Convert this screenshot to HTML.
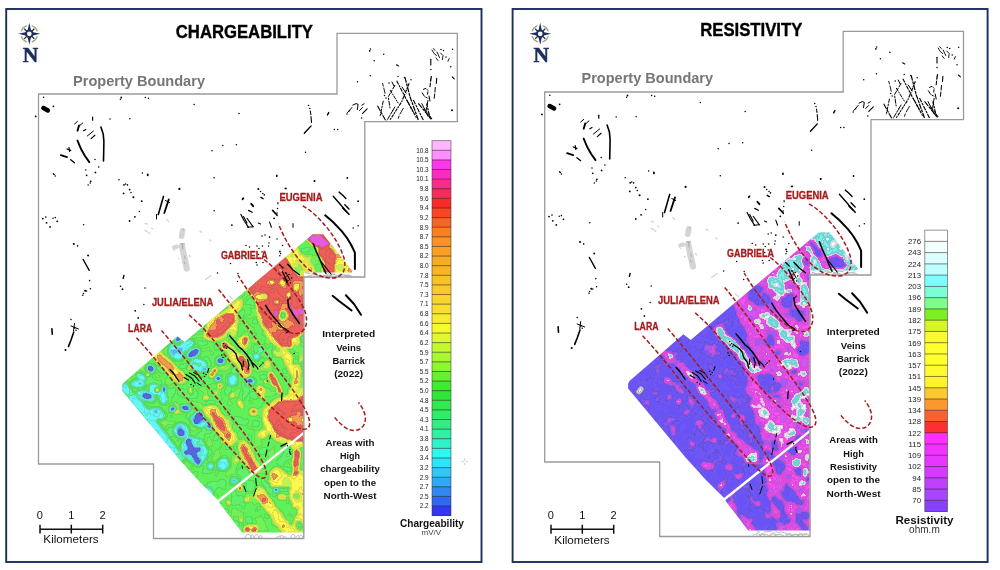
<!DOCTYPE html>
<html><head><meta charset="utf-8"><title>Chargeability / Resistivity</title>
<style>html,body{margin:0;padding:0;background:#fff;}svg{display:block;will-change:transform;}</style></head><body>
<svg width="1000" height="570" viewBox="0 0 1000 570">
<defs>
<filter id="cm1" x="0" y="0" width="100%" height="100%" color-interpolation-filters="sRGB"><feGaussianBlur in="SourceGraphic" stdDeviation="1.3" result="f"/><feTurbulence type="fractalNoise" baseFrequency="0.075" numOctaves="2" seed="11" result="n"/><feColorMatrix in="n" type="matrix" values="1 0 0 0 0  1 0 0 0 0  1 0 0 0 0  0 0 0 0 1" result="ng"/><feComposite in="f" in2="ng" operator="arithmetic" k1="0" k2="1" k3="0.35" k4="-0.175" result="v"/><feComponentTransfer in="v" result="cls"><feFuncR type="discrete" tableValues="0.0312 0.0938 0.1562 0.2188 0.2812 0.3438 0.4062 0.4688 0.5312 0.5938 0.6562 0.7188 0.7812 0.8438 0.9062 0.9688"/><feFuncG type="discrete" tableValues="0.0312 0.0938 0.1562 0.2188 0.2812 0.3438 0.4062 0.4688 0.5312 0.5938 0.6562 0.7188 0.7812 0.8438 0.9062 0.9688"/><feFuncB type="discrete" tableValues="0.0312 0.0938 0.1562 0.2188 0.2812 0.3438 0.4062 0.4688 0.5312 0.5938 0.6562 0.7188 0.7812 0.8438 0.9062 0.9688"/></feComponentTransfer><feMorphology in="cls" operator="erode" radius="1" result="er"/><feBlend in="cls" in2="er" mode="difference" result="df"/><feColorMatrix in="df" type="matrix" values="0 0 0 0 0.15  0 0 0 0 0.2  0 0 0 0 0.15  24.0 0 0 0 0" result="el"/><feComponentTransfer in="el" result="el2"><feFuncA type="linear" slope="0.12"/></feComponentTransfer><feComponentTransfer in="v" result="col"><feFuncR type="discrete" tableValues="0.345 0.345 0.345 0.345 0.345 0.345 0.345 0.345 0.345 0.345 0.345 0.345 0.345 0.345 0.345 0.345 0.345 0.345 0.345 0.345 0.345 0.345 0.345 0.345 0.345 0.345 0.345 0.345 0.345 0.345 0.361 0.361 0.361 0.361 0.361 0.361 0.361 0.361 0.361 0.361 0.361 0.361 0.361 0.361 0.361 0.392 0.392 0.392 0.392 0.392 0.392 0.392 0.392 0.392 0.392 0.392 0.392 0.392 0.392 0.392 0.392 0.392 0.392 0.392 0.392 0.392 0.392 0.392 0.392 0.392 0.392 0.392 0.392 0.392 0.392 0.384 0.384 0.384 0.384 0.384 0.384 0.384 0.384 0.384 0.384 0.384 0.384 0.384 0.384 0.384 0.369 0.369 0.369 0.369 0.369 0.369 0.369 0.369 0.369 0.369 0.369 0.369 0.369 0.369 0.369 0.376 0.376 0.376 0.376 0.376 0.376 0.376 0.376 0.376 0.376 0.376 0.376 0.376 0.376 0.376 0.439 0.439 0.439 0.439 0.439 0.439 0.439 0.439 0.439 0.439 0.439 0.439 0.439 0.439 0.439 0.722 0.722 0.722 0.722 0.722 0.722 0.722 0.722 0.722 0.722 0.722 0.722 0.722 0.722 0.722 0.973 0.973 0.973 0.973 0.973 0.973 0.973 0.973 0.973 0.973 0.973 0.973 0.973 0.973 0.973 0.973 0.973 0.973 0.973 0.973 0.973 0.973 0.973 0.973 0.973 0.973 0.973 0.973 0.973 0.973 0.949 0.949 0.949 0.949 0.949 0.949 0.949 0.949 0.949 0.949 0.949 0.949 0.949 0.949 0.949 0.941 0.941 0.941 0.941 0.941 0.941 0.941 0.941 0.941 0.941 0.941 0.941 0.941 0.941 0.941 0.941 0.941 0.941 0.941 0.941 0.941 0.941 0.941 0.941 0.941 0.941 0.941 0.941 0.941 0.941 0.941 0.941 0.941 0.941 0.941 0.941 0.941 0.941 0.941 0.894 0.894 0.894 0.894 0.894 0.894"/><feFuncG type="discrete" tableValues="0.400 0.400 0.400 0.400 0.400 0.400 0.400 0.400 0.400 0.400 0.400 0.400 0.400 0.400 0.400 0.400 0.400 0.400 0.400 0.400 0.400 0.400 0.400 0.400 0.400 0.400 0.400 0.400 0.400 0.400 0.706 0.706 0.706 0.706 0.706 0.706 0.706 0.706 0.706 0.706 0.706 0.706 0.706 0.706 0.706 0.973 0.973 0.973 0.973 0.973 0.973 0.973 0.973 0.973 0.973 0.973 0.973 0.973 0.973 0.973 0.973 0.973 0.973 0.973 0.973 0.973 0.973 0.973 0.973 0.973 0.973 0.973 0.973 0.973 0.973 0.957 0.957 0.957 0.957 0.957 0.957 0.957 0.957 0.957 0.957 0.957 0.957 0.957 0.957 0.957 0.949 0.949 0.949 0.949 0.949 0.949 0.949 0.949 0.949 0.949 0.949 0.949 0.949 0.949 0.949 0.949 0.949 0.949 0.949 0.949 0.949 0.949 0.949 0.949 0.949 0.949 0.949 0.949 0.949 0.949 0.949 0.949 0.949 0.949 0.949 0.949 0.949 0.949 0.949 0.949 0.949 0.949 0.949 0.949 0.949 0.965 0.965 0.965 0.965 0.965 0.965 0.965 0.965 0.965 0.965 0.965 0.965 0.965 0.965 0.965 0.973 0.973 0.973 0.973 0.973 0.973 0.973 0.973 0.973 0.973 0.973 0.973 0.973 0.973 0.973 0.973 0.973 0.973 0.973 0.973 0.973 0.973 0.973 0.973 0.973 0.973 0.973 0.973 0.973 0.973 0.604 0.604 0.604 0.604 0.604 0.604 0.604 0.604 0.604 0.604 0.604 0.604 0.604 0.604 0.604 0.376 0.376 0.376 0.376 0.376 0.376 0.376 0.376 0.376 0.376 0.376 0.376 0.376 0.376 0.376 0.376 0.376 0.376 0.376 0.376 0.376 0.376 0.376 0.376 0.376 0.376 0.376 0.376 0.376 0.376 0.376 0.376 0.376 0.376 0.376 0.376 0.376 0.376 0.376 0.361 0.361 0.361 0.361 0.361 0.361"/><feFuncB type="discrete" tableValues="0.878 0.878 0.878 0.878 0.878 0.878 0.878 0.878 0.878 0.878 0.878 0.878 0.878 0.878 0.878 0.878 0.878 0.878 0.878 0.878 0.878 0.878 0.878 0.878 0.878 0.878 0.878 0.878 0.878 0.878 0.957 0.957 0.957 0.957 0.957 0.957 0.957 0.957 0.957 0.957 0.957 0.957 0.957 0.957 0.957 0.957 0.957 0.957 0.957 0.957 0.957 0.957 0.957 0.957 0.957 0.957 0.957 0.957 0.957 0.957 0.957 0.957 0.957 0.957 0.957 0.957 0.957 0.957 0.957 0.957 0.957 0.957 0.957 0.957 0.957 0.659 0.659 0.659 0.659 0.659 0.659 0.659 0.659 0.659 0.659 0.659 0.659 0.659 0.659 0.659 0.424 0.424 0.424 0.424 0.424 0.424 0.424 0.424 0.424 0.424 0.424 0.424 0.424 0.424 0.424 0.353 0.353 0.353 0.353 0.353 0.353 0.353 0.353 0.353 0.353 0.353 0.353 0.353 0.353 0.353 0.345 0.345 0.345 0.345 0.345 0.345 0.345 0.345 0.345 0.345 0.345 0.345 0.345 0.345 0.345 0.345 0.345 0.345 0.345 0.345 0.345 0.345 0.345 0.345 0.345 0.345 0.345 0.345 0.345 0.345 0.306 0.306 0.306 0.306 0.306 0.306 0.306 0.306 0.306 0.306 0.306 0.306 0.306 0.306 0.306 0.306 0.306 0.306 0.306 0.306 0.306 0.306 0.306 0.306 0.306 0.306 0.306 0.306 0.306 0.306 0.314 0.314 0.314 0.314 0.314 0.314 0.314 0.314 0.314 0.314 0.314 0.314 0.314 0.314 0.314 0.353 0.353 0.353 0.353 0.353 0.353 0.353 0.353 0.353 0.353 0.353 0.353 0.353 0.353 0.353 0.353 0.353 0.353 0.353 0.353 0.353 0.353 0.353 0.353 0.353 0.353 0.353 0.353 0.353 0.353 0.353 0.353 0.353 0.353 0.353 0.353 0.353 0.353 0.353 0.878 0.878 0.878 0.878 0.878 0.878"/></feComponentTransfer><feComposite in="el2" in2="col" operator="over"/></filter>
<filter id="cm2" x="0" y="0" width="100%" height="100%" color-interpolation-filters="sRGB"><feGaussianBlur in="SourceGraphic" stdDeviation="1.2" result="f"/><feTurbulence type="fractalNoise" baseFrequency="0.10" numOctaves="3" seed="5" result="n"/><feColorMatrix in="n" type="matrix" values="1 0 0 0 0  1 0 0 0 0  1 0 0 0 0  0 0 0 0 1" result="ng"/><feComposite in="f" in2="ng" operator="arithmetic" k1="0" k2="1" k3="0.6" k4="-0.3" result="v"/><feComponentTransfer in="v" result="cls"><feFuncR type="discrete" tableValues="0.0300 0.0300 0.0300 0.2200 0.2800 0.3400 0.4100 0.4700 0.5300 0.5900 0.6600 0.7200 0.7800 0.8400 0.9100 0.9700"/><feFuncG type="discrete" tableValues="0.0300 0.0300 0.0300 0.2200 0.2800 0.3400 0.4100 0.4700 0.5300 0.5900 0.6600 0.7200 0.7800 0.8400 0.9100 0.9700"/><feFuncB type="discrete" tableValues="0.0300 0.0300 0.0300 0.2200 0.2800 0.3400 0.4100 0.4700 0.5300 0.5900 0.6600 0.7200 0.7800 0.8400 0.9100 0.9700"/></feComponentTransfer><feMorphology in="cls" operator="erode" radius="1" result="er"/><feBlend in="cls" in2="er" mode="difference" result="df"/><feColorMatrix in="df" type="matrix" values="0 0 0 0 0.25  0 0 0 0 0.15  0 0 0 0 0.35  24.0 0 0 0 0" result="el"/><feComponentTransfer in="el" result="el2"><feFuncA type="linear" slope="0.15"/></feComponentTransfer><feComponentTransfer in="v" result="col"><feFuncR type="discrete" tableValues="0.416 0.416 0.416 0.416 0.416 0.416 0.416 0.416 0.416 0.416 0.416 0.416 0.416 0.416 0.416 0.416 0.416 0.416 0.416 0.416 0.416 0.416 0.416 0.416 0.416 0.416 0.416 0.416 0.416 0.416 0.439 0.439 0.439 0.439 0.439 0.439 0.439 0.439 0.439 0.439 0.439 0.439 0.439 0.439 0.439 0.439 0.439 0.439 0.439 0.439 0.439 0.439 0.439 0.439 0.439 0.439 0.439 0.439 0.439 0.439 0.627 0.627 0.627 0.627 0.627 0.627 0.627 0.627 0.627 0.627 0.627 0.627 0.627 0.627 0.627 0.800 0.800 0.800 0.800 0.800 0.800 0.800 0.800 0.800 0.800 0.800 0.800 0.800 0.800 0.800 0.957 0.957 0.957 0.957 0.957 0.957 0.957 0.957 0.957 0.957 0.957 0.957 0.957 0.957 0.957 0.957 0.957 0.957 0.957 0.957 0.957 0.957 0.957 0.957 0.957 0.957 0.957 0.957 0.957 0.957 0.957 0.957 0.957 0.957 0.957 0.957 0.957 0.957 0.957 0.957 0.957 0.957 0.957 0.957 0.957 0.984 0.984 0.984 0.984 0.984 0.984 0.984 0.984 0.984 0.992 0.992 0.992 0.992 0.992 0.992 0.992 0.992 0.992 0.992 0.894 0.894 0.894 0.894 0.894 0.894 0.894 0.894 0.894 0.894 0.894 0.486 0.486 0.486 0.486 0.486 0.486 0.486 0.486 0.486 0.486 0.486 0.486 0.486 0.486 0.486 0.486 0.486 0.486 0.486 0.486 0.486 0.486 0.486 0.486 0.486 0.486 0.486 0.486 0.486 0.486 0.486 0.486 0.486 0.486 0.486 0.486 0.486 0.486 0.486 0.486 0.486 0.486 0.486 0.486 0.486 0.784 0.784 0.784 0.784 0.784 0.784 0.784 0.784 0.784 0.784 0.784 0.784 0.784 0.784 0.784 1.000 1.000 1.000 1.000 1.000 1.000 1.000 1.000 1.000 1.000 1.000 1.000 1.000 1.000 1.000"/><feFuncG type="discrete" tableValues="0.329 0.329 0.329 0.329 0.329 0.329 0.329 0.329 0.329 0.329 0.329 0.329 0.329 0.329 0.329 0.329 0.329 0.329 0.329 0.329 0.329 0.329 0.329 0.329 0.329 0.329 0.329 0.329 0.329 0.329 0.345 0.345 0.345 0.345 0.345 0.345 0.345 0.345 0.345 0.345 0.345 0.345 0.345 0.345 0.345 0.345 0.345 0.345 0.345 0.345 0.345 0.345 0.345 0.345 0.345 0.345 0.345 0.345 0.345 0.345 0.361 0.361 0.361 0.361 0.361 0.361 0.361 0.361 0.361 0.361 0.361 0.361 0.361 0.361 0.361 0.345 0.345 0.345 0.345 0.345 0.345 0.345 0.345 0.345 0.345 0.345 0.345 0.345 0.345 0.345 0.322 0.322 0.322 0.322 0.322 0.322 0.322 0.322 0.322 0.322 0.322 0.322 0.322 0.322 0.322 0.322 0.322 0.322 0.322 0.322 0.322 0.322 0.322 0.322 0.322 0.322 0.322 0.322 0.322 0.322 0.322 0.322 0.322 0.322 0.322 0.322 0.322 0.322 0.322 0.322 0.322 0.322 0.322 0.322 0.322 0.875 0.875 0.875 0.875 0.875 0.875 0.875 0.875 0.875 0.988 0.988 0.988 0.988 0.988 0.988 0.988 0.988 0.988 0.988 0.984 0.984 0.984 0.984 0.984 0.984 0.984 0.984 0.984 0.984 0.984 0.941 0.941 0.941 0.941 0.941 0.941 0.941 0.941 0.941 0.941 0.941 0.941 0.941 0.941 0.941 0.941 0.941 0.941 0.941 0.941 0.941 0.941 0.941 0.941 0.941 0.941 0.941 0.941 0.941 0.941 0.941 0.941 0.941 0.941 0.941 0.941 0.941 0.941 0.941 0.941 0.941 0.941 0.941 0.941 0.941 0.973 0.973 0.973 0.973 0.973 0.973 0.973 0.973 0.973 0.973 0.973 0.973 0.973 0.973 0.973 1.000 1.000 1.000 1.000 1.000 1.000 1.000 1.000 1.000 1.000 1.000 1.000 1.000 1.000 1.000"/><feFuncB type="discrete" tableValues="0.957 0.957 0.957 0.957 0.957 0.957 0.957 0.957 0.957 0.957 0.957 0.957 0.957 0.957 0.957 0.957 0.957 0.957 0.957 0.957 0.957 0.957 0.957 0.957 0.957 0.957 0.957 0.957 0.957 0.957 0.965 0.965 0.965 0.965 0.965 0.965 0.965 0.965 0.965 0.965 0.965 0.965 0.965 0.965 0.965 0.965 0.965 0.965 0.965 0.965 0.965 0.965 0.965 0.965 0.965 0.965 0.965 0.965 0.965 0.965 0.965 0.965 0.965 0.965 0.965 0.965 0.965 0.965 0.965 0.965 0.965 0.965 0.965 0.965 0.965 0.957 0.957 0.957 0.957 0.957 0.957 0.957 0.957 0.957 0.957 0.957 0.957 0.957 0.957 0.957 0.949 0.949 0.949 0.949 0.949 0.949 0.949 0.949 0.949 0.949 0.949 0.949 0.949 0.949 0.949 0.949 0.949 0.949 0.949 0.949 0.949 0.949 0.949 0.949 0.949 0.949 0.949 0.949 0.949 0.949 0.949 0.949 0.949 0.949 0.949 0.949 0.949 0.949 0.949 0.949 0.949 0.949 0.949 0.949 0.949 0.957 0.957 0.957 0.957 0.957 0.957 0.957 0.957 0.957 0.965 0.965 0.965 0.965 0.965 0.965 0.965 0.965 0.965 0.965 0.957 0.957 0.957 0.957 0.957 0.957 0.957 0.957 0.957 0.957 0.957 0.918 0.918 0.918 0.918 0.918 0.918 0.918 0.918 0.918 0.918 0.918 0.918 0.918 0.918 0.918 0.918 0.918 0.918 0.918 0.918 0.918 0.918 0.918 0.918 0.918 0.918 0.918 0.918 0.918 0.918 0.918 0.918 0.918 0.918 0.918 0.918 0.918 0.918 0.918 0.918 0.918 0.918 0.918 0.918 0.918 0.965 0.965 0.965 0.965 0.965 0.965 0.965 0.965 0.965 0.965 0.965 0.965 0.965 0.965 0.965 1.000 1.000 1.000 1.000 1.000 1.000 1.000 1.000 1.000 1.000 1.000 1.000 1.000 1.000 1.000"/></feComponentTransfer><feComposite in="el2" in2="col" operator="over"/></filter>
<clipPath id="dclip"><path d="M121.9 385.7 L123.3 383 L177.2 336.2 L184.5 342 L312.7 234.2 L323.2 234.2 L352 270.7 L352 272.6 L304 272.6 L304 532.5 L242 532.5 L220 503.7 L217.9 500.1 L200 482.2 L180 460.3 L150 424.2 L121.9 390.4 Z"/></clipPath>
<g id="overlay">
<path d="M38.5 94 L337 94 L337 33.3 L457.3 33.3 L457.3 121.6 L364.8 121.6 L364.8 277 L303.8 277 L303.8 538.5 L153.5 538.5 L153.5 464 L38.5 464 Z" fill="none" stroke="#9a9a9a" stroke-width="1.3"/>
</g>
</defs>
<rect width="1000" height="570" fill="#fff"/>
<rect x="6.2" y="9" width="475.3" height="553" fill="#fff" stroke="#1c2d5e" stroke-width="1.9"/>
<rect x="512.6" y="9" width="475" height="553" fill="#fff" stroke="#1c2d5e" stroke-width="1.9"/>
<g clip-path="url(#dclip)"><g transform="rotate(0 215 385)" filter="url(#cm1)"><g transform="rotate(0 215 385)"><polygon points="110.0,225.0 360.0,225.0 360.0,545.0 110.0,545.0" fill="#787878"/>
<path d="M125.0 388.0 L140.0 406.0 L157.0 428.0 L170.0 446.0 L180.0 458.0" fill="none" stroke="#404040" stroke-width="8" stroke-linecap="round" stroke-linejoin="round"/>
<ellipse cx="176" cy="352" rx="9" ry="6" fill="#404040" transform="rotate(50 176 352)"/>
<ellipse cx="186" cy="346" rx="9" ry="5" fill="#404040" transform="rotate(-30 186 346)"/>
<ellipse cx="198" cy="365" rx="9" ry="6" fill="#404040" transform="rotate(20 198 365)"/>
<ellipse cx="138" cy="384" rx="7" ry="3.5" fill="#404040" transform="rotate(0 138 384)"/>
<ellipse cx="155" cy="390" rx="7" ry="4.5" fill="#404040" transform="rotate(30 155 390)"/>
<ellipse cx="146" cy="396" rx="10" ry="5" fill="#404040" transform="rotate(20 146 396)"/>
<ellipse cx="163" cy="398" rx="3.5" ry="6" fill="#404040" transform="rotate(0 163 398)"/>
<ellipse cx="157" cy="414" rx="9" ry="5.5" fill="#404040" transform="rotate(20 157 414)"/>
<ellipse cx="182" cy="431" rx="8" ry="7" fill="#404040" transform="rotate(40 182 431)"/>
<ellipse cx="233" cy="380" rx="4.5" ry="5.5" fill="#404040" transform="rotate(0 233 380)"/>
<ellipse cx="198" cy="421" rx="8" ry="6" fill="#404040" transform="rotate(30 198 421)"/>
<ellipse cx="250" cy="381.5" rx="4.5" ry="3.5" fill="#404040" transform="rotate(0 250 381.5)"/>
<ellipse cx="194" cy="450" rx="14" ry="12" fill="#404040" transform="rotate(40 194 450)"/>
<ellipse cx="223" cy="464" rx="6" ry="6.5" fill="#404040" transform="rotate(30 223 464)"/>
<ellipse cx="211" cy="466" rx="3" ry="2.5" fill="#404040" transform="rotate(0 211 466)"/>
<ellipse cx="234.5" cy="481" rx="3.8" ry="4.2" fill="#404040" transform="rotate(0 234.5 481)"/>
<ellipse cx="227.7" cy="443.3" rx="2.8" ry="2.8" fill="#404040" transform="rotate(0 227.7 443.3)"/>
<ellipse cx="257" cy="356.6" rx="3" ry="3" fill="#404040" transform="rotate(0 257 356.6)"/>
<ellipse cx="209" cy="492" rx="6" ry="3" fill="#404040" transform="rotate(50 209 492)"/>
<ellipse cx="141" cy="377" rx="5" ry="3" fill="#404040" transform="rotate(30 141 377)"/>
<ellipse cx="150.8" cy="368.6" rx="4" ry="3" fill="#000000" transform="rotate(30 150.8 368.6)"/>
<ellipse cx="147.3" cy="396" rx="5" ry="2.5" fill="#000000" transform="rotate(10 147.3 396)"/>
<ellipse cx="193.5" cy="353" rx="7" ry="3.8" fill="#000000" transform="rotate(-35 193.5 353)"/>
<ellipse cx="178.8" cy="338.5" rx="4" ry="2.6" fill="#000000" transform="rotate(-40 178.8 338.5)"/>
<ellipse cx="220.2" cy="361" rx="4" ry="3.2" fill="#000000" transform="rotate(0 220.2 361)"/>
<ellipse cx="185" cy="408" rx="4.5" ry="3" fill="#000000" transform="rotate(10 185 408)"/>
<ellipse cx="173" cy="409" rx="3.2" ry="2.6" fill="#000000" transform="rotate(0 173 409)"/>
<ellipse cx="164" cy="389" rx="2" ry="3" fill="#000000" transform="rotate(0 164 389)"/>
<ellipse cx="218.5" cy="378.4" rx="2.2" ry="2.2" fill="#000000" transform="rotate(0 218.5 378.4)"/>
<ellipse cx="250" cy="380.5" rx="2" ry="2" fill="#000000" transform="rotate(0 250 380.5)"/>
<ellipse cx="204.8" cy="369.3" rx="1.8" ry="1.8" fill="#000000" transform="rotate(0 204.8 369.3)"/>
<ellipse cx="199.8" cy="416.1" rx="4" ry="4" fill="#000000" transform="rotate(0 199.8 416.1)"/>
<ellipse cx="196.3" cy="421.5" rx="3" ry="3" fill="#000000" transform="rotate(0 196.3 421.5)"/>
<ellipse cx="209.6" cy="426" rx="2.5" ry="2.5" fill="#000000" transform="rotate(0 209.6 426)"/>
<ellipse cx="251.7" cy="381" rx="1.5" ry="1.5" fill="#000000" transform="rotate(0 251.7 381)"/>
<path d="M188.0 441.0 L193.0 452.0 L198.0 463.0" fill="none" stroke="#000000" stroke-width="4.2" stroke-linecap="round" stroke-linejoin="round"/>
<path d="M186.0 453.0 L199.0 449.0" fill="none" stroke="#000000" stroke-width="4.2" stroke-linecap="round" stroke-linejoin="round"/>
<ellipse cx="181.4" cy="433" rx="3.2" ry="3.2" fill="#000000" transform="rotate(0 181.4 433)"/>
<ellipse cx="276.1" cy="489.6" rx="1.8" ry="1.8" fill="#000000" transform="rotate(0 276.1 489.6)"/>
<ellipse cx="234" cy="480.5" rx="1.8" ry="1.8" fill="#000000" transform="rotate(0 234 480.5)"/>
<ellipse cx="227.7" cy="443.3" rx="1.3" ry="1.3" fill="#000000" transform="rotate(0 227.7 443.3)"/>
<polygon points="330.0,246.0 338.0,250.0 347.0,262.0 354.0,271.0 354.0,275.0 328.0,275.0" fill="#b0b0b0"/>
<path d="M295.0 248.0 L313.0 271.0" fill="none" stroke="#b0b0b0" stroke-width="5.0" stroke-linecap="round" stroke-linejoin="round"/>
<path d="M288.5 254.5 L303.0 275.0" fill="none" stroke="#b0b0b0" stroke-width="4.0" stroke-linecap="round" stroke-linejoin="round"/>
<path d="M251.0 288.0 L259.0 305.0 L260.0 318.0 L271.0 338.0 L284.0 351.0" fill="none" stroke="#b0b0b0" stroke-width="5.5" stroke-linecap="round" stroke-linejoin="round"/>
<ellipse cx="236" cy="307" rx="9" ry="5.5" fill="#b0b0b0" transform="rotate(-40 236 307)"/>
<ellipse cx="221" cy="325" rx="21" ry="11.5" fill="#b0b0b0" transform="rotate(-40 221 325)"/>
<path d="M262.0 308.0 L268.0 322.0 L280.0 341.0" fill="none" stroke="#b0b0b0" stroke-width="5.5" stroke-linecap="round" stroke-linejoin="round"/>
<path d="M229.0 349.0 L238.0 360.0 L246.0 372.0" fill="none" stroke="#b0b0b0" stroke-width="11" stroke-linecap="round" stroke-linejoin="round"/>
<path d="M157.0 356.0 L180.0 377.0" fill="none" stroke="#b0b0b0" stroke-width="11" stroke-linecap="round" stroke-linejoin="round"/>
<ellipse cx="190.7" cy="390.3" rx="2.6" ry="4.2" fill="#b0b0b0" transform="rotate(0 190.7 390.3)"/>
<ellipse cx="189.3" cy="367.9" rx="2.6" ry="2.6" fill="#b0b0b0" transform="rotate(0 189.3 367.9)"/>
<ellipse cx="293" cy="370.5" rx="8" ry="5" fill="#b0b0b0" transform="rotate(50 293 370.5)"/>
<ellipse cx="261.5" cy="392.5" rx="8" ry="4.5" fill="#b0b0b0" transform="rotate(60 261.5 392.5)"/>
<ellipse cx="240.5" cy="404" rx="5" ry="2.8" fill="#b0b0b0" transform="rotate(60 240.5 404)"/>
<ellipse cx="253.5" cy="412" rx="4.2" ry="4.2" fill="#b0b0b0" transform="rotate(0 253.5 412)"/>
<ellipse cx="263.5" cy="434" rx="5.5" ry="4.5" fill="#b0b0b0" transform="rotate(0 263.5 434)"/>
<polygon points="264.0,408.0 278.0,397.0 296.0,393.0 305.0,385.0 305.0,446.0 284.0,446.0 272.0,438.0 262.0,422.0" fill="#b0b0b0"/>
<path d="M211.0 412.0 L222.0 427.0 L231.0 439.0" fill="none" stroke="#b0b0b0" stroke-width="15" stroke-linecap="round" stroke-linejoin="round"/>
<path d="M243.0 447.0 L249.0 458.0 L254.0 468.0" fill="none" stroke="#b0b0b0" stroke-width="12" stroke-linecap="round" stroke-linejoin="round"/>
<ellipse cx="280" cy="477" rx="11" ry="8" fill="#b0b0b0" transform="rotate(40 280 477)"/>
<path d="M259.0 491.0 L270.0 508.0 L287.0 530.0" fill="none" stroke="#b0b0b0" stroke-width="11" stroke-linecap="round" stroke-linejoin="round"/>
<polygon points="289.0,476.0 305.0,468.0 305.0,534.0 288.0,534.0 296.0,515.0 289.0,500.0" fill="#b0b0b0"/>
<polygon points="268.0,480.0 303.0,480.0 303.0,488.0 270.0,488.0" fill="#b0b0b0"/>
<ellipse cx="251" cy="528.5" rx="7.5" ry="4.5" fill="#b0b0b0" transform="rotate(0 251 528.5)"/>
<ellipse cx="241" cy="520.2" rx="2.2" ry="2.2" fill="#b0b0b0" transform="rotate(0 241 520.2)"/>
<ellipse cx="229" cy="503" rx="2" ry="3" fill="#b0b0b0" transform="rotate(0 229 503)"/>
<ellipse cx="282" cy="497" rx="4.5" ry="3" fill="#b0b0b0" transform="rotate(0 282 497)"/>
<ellipse cx="296" cy="446" rx="6" ry="3.5" fill="#b0b0b0" transform="rotate(0 296 446)"/>
<polygon points="246.0,283.0 282.0,251.0 286.0,257.0 299.0,276.0 306.0,277.0 306.0,332.0 298.0,338.0 291.0,348.0 281.0,346.0 266.0,329.0 260.0,312.0" fill="#dedede"/>
<polygon points="318.0,248.0 329.0,246.0 336.0,255.0 334.0,274.0 323.0,274.0 316.0,260.0" fill="#dedede"/>
<path d="M292.0 251.5 L308.0 273.0" fill="none" stroke="#c8c8c8" stroke-width="3.2" stroke-linecap="round" stroke-linejoin="round"/>
<ellipse cx="221" cy="325" rx="17" ry="8" fill="#dedede" transform="rotate(-40 221 325)"/>
<ellipse cx="225" cy="345.5" rx="3.6" ry="3.6" fill="#dedede" transform="rotate(0 225 345.5)"/>
<path d="M242.0 359.0 L247.0 370.0" fill="none" stroke="#dedede" stroke-width="7" stroke-linecap="round" stroke-linejoin="round"/>
<path d="M158.0 357.0 L179.0 375.5" fill="none" stroke="#c8c8c8" stroke-width="6.5" stroke-linecap="round" stroke-linejoin="round"/>
<ellipse cx="148" cy="375" rx="1.8" ry="1.8" fill="#dedede" transform="rotate(0 148 375)"/>
<ellipse cx="157" cy="390" rx="2" ry="2" fill="#dedede" transform="rotate(0 157 390)"/>
<ellipse cx="211.8" cy="374.9" rx="3" ry="3" fill="#dedede" transform="rotate(0 211.8 374.9)"/>
<ellipse cx="219.5" cy="386" rx="1.9" ry="1.9" fill="#dedede" transform="rotate(0 219.5 386)"/>
<ellipse cx="214.5" cy="370.5" rx="2" ry="2" fill="#dedede" transform="rotate(0 214.5 370.5)"/>
<path d="M271.0 376.0 L275.0 383.0" fill="none" stroke="#dedede" stroke-width="7" stroke-linecap="round" stroke-linejoin="round"/>
<path d="M277.0 384.0 L280.0 392.0" fill="none" stroke="#dedede" stroke-width="4" stroke-linecap="round" stroke-linejoin="round"/>
<ellipse cx="265.7" cy="381.7" rx="2.1" ry="2.1" fill="#dedede" transform="rotate(0 265.7 381.7)"/>
<ellipse cx="253.8" cy="411.2" rx="2" ry="2" fill="#dedede" transform="rotate(0 253.8 411.2)"/>
<path d="M212.0 413.0 L222.0 427.0 L231.0 439.0" fill="none" stroke="#c8c8c8" stroke-width="8" stroke-linecap="round" stroke-linejoin="round"/>
<path d="M213.0 415.0 L222.0 427.0 L229.0 436.0" fill="none" stroke="#dedede" stroke-width="4.5" stroke-linecap="round" stroke-linejoin="round"/>
<polygon points="268.0,410.0 280.0,401.0 297.0,400.0 305.0,394.0 305.0,442.0 286.0,440.0 276.0,432.0 268.0,420.0" fill="#dedede"/>
<path d="M243.0 448.0 L249.0 458.0" fill="none" stroke="#c8c8c8" stroke-width="7" stroke-linecap="round" stroke-linejoin="round"/>
<path d="M244.0 450.0 L248.5 457.0" fill="none" stroke="#dedede" stroke-width="4" stroke-linecap="round" stroke-linejoin="round"/>
<path d="M250.0 461.0 L254.5 470.0" fill="none" stroke="#dedede" stroke-width="5.5" stroke-linecap="round" stroke-linejoin="round"/>
<path d="M297.0 453.0 L296.0 472.0" fill="none" stroke="#dedede" stroke-width="7" stroke-linecap="round" stroke-linejoin="round"/>
<ellipse cx="264.2" cy="500.1" rx="2.5" ry="4" fill="#c8c8c8" transform="rotate(50 264.2 500.1)"/>
<ellipse cx="254.2" cy="530.4" rx="2.5" ry="2.5" fill="#dedede" transform="rotate(0 254.2 530.4)"/>
<ellipse cx="247" cy="529.5" rx="2" ry="2" fill="#dedede" transform="rotate(0 247 529.5)"/>
<ellipse cx="240.3" cy="488.2" rx="2" ry="2.5" fill="#dedede" transform="rotate(0 240.3 488.2)"/>
<ellipse cx="287.5" cy="522" rx="1.3" ry="1.3" fill="#c8c8c8" transform="rotate(0 287.5 522)"/>
<ellipse cx="284" cy="525.5" rx="1.3" ry="1.3" fill="#c8c8c8" transform="rotate(0 284 525.5)"/>
<ellipse cx="287" cy="356" rx="8" ry="5" fill="#b0b0b0" transform="rotate(50 287 356)"/>
<ellipse cx="296" cy="385" rx="4" ry="6" fill="#b0b0b0" transform="rotate(0 296 385)"/>
<ellipse cx="276" cy="353" rx="5" ry="3.5" fill="#b0b0b0" transform="rotate(50 276 353)"/>
<ellipse cx="296" cy="341" rx="5" ry="4" fill="#b0b0b0" transform="rotate(0 296 341)"/>
<ellipse cx="288" cy="363" rx="4" ry="3" fill="#b0b0b0" transform="rotate(0 288 363)"/>
<ellipse cx="301" cy="358" rx="3" ry="5" fill="#b0b0b0" transform="rotate(0 301 358)"/>
<ellipse cx="268" cy="364" rx="3" ry="4" fill="#b0b0b0" transform="rotate(0 268 364)"/>
<ellipse cx="255" cy="340" rx="5" ry="3" fill="#969696" transform="rotate(50 255 340)"/>
<ellipse cx="206" cy="398" rx="3" ry="2.5" fill="#b0b0b0" transform="rotate(0 206 398)"/>
<ellipse cx="232" cy="395" rx="2.5" ry="3" fill="#b0b0b0" transform="rotate(0 232 395)"/>
<ellipse cx="176" cy="412" rx="2.5" ry="2" fill="#b0b0b0" transform="rotate(0 176 412)"/>
<ellipse cx="246" cy="500" rx="3" ry="2.5" fill="#b0b0b0" transform="rotate(0 246 500)"/>
<ellipse cx="234" cy="331" rx="3.5" ry="7" fill="#b0b0b0" transform="rotate(20 234 331)"/>
<ellipse cx="243" cy="342" rx="5" ry="6" fill="#b0b0b0" transform="rotate(20 243 342)"/>
<ellipse cx="245.5" cy="340.5" rx="2.5" ry="4.5" fill="#c8c8c8" transform="rotate(20 245.5 340.5)"/>
<ellipse cx="297" cy="372" rx="4" ry="8" fill="#b0b0b0" transform="rotate(10 297 372)"/>
<ellipse cx="292" cy="392" rx="4" ry="5" fill="#b0b0b0" transform="rotate(0 292 392)"/>
<ellipse cx="283" cy="283" rx="3" ry="2.2" fill="#b0b0b0" transform="rotate(40 283 283)"/>
<ellipse cx="277" cy="302" rx="3" ry="2.4" fill="#b0b0b0" transform="rotate(0 277 302)"/>
<ellipse cx="264.5" cy="296" rx="2.6" ry="2" fill="#b0b0b0" transform="rotate(0 264.5 296)"/>
<ellipse cx="289" cy="295" rx="2.4" ry="2.4" fill="#b0b0b0" transform="rotate(0 289 295)"/>
<ellipse cx="272" cy="282" rx="2" ry="2" fill="#b0b0b0" transform="rotate(0 272 282)"/>
<ellipse cx="296" cy="288" rx="2" ry="3" fill="#b0b0b0" transform="rotate(0 296 288)"/>
<ellipse cx="281" cy="327" rx="3" ry="2" fill="#b0b0b0" transform="rotate(0 281 327)"/>
<ellipse cx="282.2" cy="315.2" rx="5" ry="5" fill="#b0b0b0" transform="rotate(0 282.2 315.2)"/>
<ellipse cx="290" cy="420" rx="2" ry="2" fill="#b0b0b0" transform="rotate(0 290 420)"/>
<ellipse cx="299" cy="413" rx="1.8" ry="1.8" fill="#b0b0b0" transform="rotate(0 299 413)"/>
<path d="M303.0 242.0 L311.0 252.0 L320.0 265.0" fill="none" stroke="#787878" stroke-width="8.5" stroke-linecap="round" stroke-linejoin="round"/>
<ellipse cx="282.2" cy="315.2" rx="3.2" ry="3.2" fill="#787878" transform="rotate(0 282.2 315.2)"/>
<ellipse cx="297" cy="496" rx="4" ry="3" fill="#787878" transform="rotate(0 297 496)"/>
<ellipse cx="294" cy="512" rx="4" ry="5" fill="#787878" transform="rotate(0 294 512)"/>
<ellipse cx="299" cy="525" rx="3" ry="4" fill="#787878" transform="rotate(0 299 525)"/>
<ellipse cx="283" cy="510" rx="5" ry="4" fill="#787878" transform="rotate(0 283 510)"/>
<ellipse cx="270" cy="394" rx="6" ry="8" fill="#787878" transform="rotate(20 270 394)"/>
<polygon points="311.0,233.0 324.0,233.0 331.5,244.0 323.0,248.5 314.0,246.5 306.0,239.0" fill="#ffffff"/>
<path d="M291.0 305.5 L296.0 316.0" fill="none" stroke="#ffffff" stroke-width="4.0" stroke-linecap="round" stroke-linejoin="round"/>
<ellipse cx="277" cy="313" rx="2.6" ry="2.6" fill="#ffffff" transform="rotate(0 277 313)"/></g></g></g>
<g transform="translate(506.2 -2.0)"><g clip-path="url(#dclip)"><g transform="rotate(0 215 385)" filter="url(#cm2)"><g transform="rotate(0 215 385)"><polygon points="110.0,225.0 360.0,225.0 360.0,545.0 110.0,545.0" fill="#242424"/>
<polygon points="223.0,300.0 296.0,240.0 309.0,226.0 327.0,226.0 358.0,270.0 354.0,275.0 306.0,275.0 306.0,535.0 272.0,535.0 262.0,500.0 258.0,470.0 255.0,440.0 246.0,412.0 239.0,392.0 241.0,378.0 251.0,368.0 245.0,350.0 236.0,328.0" fill="#6a6a6a"/>
<path d="M157.0 355.0 L175.0 368.0 L190.0 384.0 L205.0 403.0 L221.0 430.0 L236.0 447.0" fill="none" stroke="#6a6a6a" stroke-width="7.5" stroke-linecap="round" stroke-linejoin="round"/>
<ellipse cx="243" cy="456" rx="12" ry="7" fill="#6a6a6a" transform="rotate(50 243 456)"/>
<path d="M224.0 507.0 L246.0 532.0" fill="none" stroke="#6a6a6a" stroke-width="8" stroke-linecap="round" stroke-linejoin="round"/>
<ellipse cx="161" cy="382" rx="3" ry="3" fill="#6a6a6a" transform="rotate(0 161 382)"/>
<ellipse cx="172.3" cy="403.8" rx="3" ry="3" fill="#6a6a6a" transform="rotate(0 172.3 403.8)"/>
<ellipse cx="163.9" cy="398.2" rx="2.6" ry="2.6" fill="#6a6a6a" transform="rotate(0 163.9 398.2)"/>
<ellipse cx="180.7" cy="413.7" rx="3.2" ry="2.6" fill="#6a6a6a" transform="rotate(0 180.7 413.7)"/>
<ellipse cx="207.4" cy="441.7" rx="2.6" ry="2.6" fill="#6a6a6a" transform="rotate(0 207.4 441.7)"/>
<ellipse cx="201" cy="468" rx="7" ry="4" fill="#6a6a6a" transform="rotate(20 201 468)"/>
<ellipse cx="204" cy="348" rx="8" ry="6" fill="#4c4c4c" transform="rotate(30 204 348)"/>
<ellipse cx="166" cy="430" rx="5" ry="4" fill="#4c4c4c" transform="rotate(0 166 430)"/>
<ellipse cx="232" cy="478" rx="4" ry="3" fill="#6a6a6a" transform="rotate(0 232 478)"/>
<ellipse cx="215" cy="487" rx="3" ry="3" fill="#6a6a6a" transform="rotate(0 215 487)"/>
<ellipse cx="150" cy="372" rx="5" ry="3" fill="#4c4c4c" transform="rotate(50 150 372)"/>
<ellipse cx="145" cy="380" rx="2.5" ry="2" fill="#6a6a6a" transform="rotate(0 145 380)"/>
<ellipse cx="168" cy="388" rx="6" ry="3" fill="#4c4c4c" transform="rotate(50 168 388)"/>
<ellipse cx="176" cy="394" rx="2.5" ry="2.5" fill="#6a6a6a" transform="rotate(0 176 394)"/>
<ellipse cx="186" cy="404" rx="5" ry="3.5" fill="#4c4c4c" transform="rotate(50 186 404)"/>
<ellipse cx="192" cy="425" rx="3" ry="2.5" fill="#6a6a6a" transform="rotate(0 192 425)"/>
<ellipse cx="200" cy="436" rx="6" ry="3" fill="#4c4c4c" transform="rotate(50 200 436)"/>
<ellipse cx="186" cy="446" rx="2.5" ry="2.5" fill="#6a6a6a" transform="rotate(0 186 446)"/>
<ellipse cx="212" cy="455" rx="5" ry="3" fill="#4c4c4c" transform="rotate(50 212 455)"/>
<ellipse cx="221" cy="470" rx="3" ry="2.5" fill="#6a6a6a" transform="rotate(0 221 470)"/>
<ellipse cx="152" cy="402" rx="4" ry="3" fill="#4c4c4c" transform="rotate(0 152 402)"/>
<ellipse cx="227" cy="400" rx="5" ry="3" fill="#4c4c4c" transform="rotate(50 227 400)"/>
<ellipse cx="236" cy="420" rx="2.5" ry="3" fill="#6a6a6a" transform="rotate(0 236 420)"/>
<ellipse cx="222" cy="372" rx="4" ry="3" fill="#4c4c4c" transform="rotate(50 222 372)"/>
<ellipse cx="240" cy="490" rx="5" ry="3" fill="#4c4c4c" transform="rotate(50 240 490)"/>
<ellipse cx="252" cy="506" rx="3" ry="2.5" fill="#6a6a6a" transform="rotate(0 252 506)"/>
<ellipse cx="262" cy="520" rx="4" ry="3" fill="#4c4c4c" transform="rotate(50 262 520)"/>
<path d="M262.0 455.0 L275.0 472.0" fill="none" stroke="#242424" stroke-width="6" stroke-linecap="round" stroke-linejoin="round"/>
<path d="M281.0 488.0 L292.0 504.0" fill="none" stroke="#242424" stroke-width="6" stroke-linecap="round" stroke-linejoin="round"/>
<path d="M268.0 500.0 L282.0 522.0" fill="none" stroke="#242424" stroke-width="5" stroke-linecap="round" stroke-linejoin="round"/>
<path d="M290.0 468.0 L300.0 482.0" fill="none" stroke="#242424" stroke-width="5" stroke-linecap="round" stroke-linejoin="round"/>
<path d="M292.0 520.0 L300.0 531.0" fill="none" stroke="#242424" stroke-width="5" stroke-linecap="round" stroke-linejoin="round"/>
<ellipse cx="252" cy="298" rx="12" ry="8" fill="#242424" transform="rotate(50 252 298)"/>
<path d="M275.0 284.0 L284.0 299.0" fill="none" stroke="#242424" stroke-width="7" stroke-linecap="round" stroke-linejoin="round"/>
<ellipse cx="297" cy="350" rx="8" ry="7" fill="#242424" transform="rotate(0 297 350)"/>
<ellipse cx="262" cy="385" rx="12" ry="8.5" fill="#242424" transform="rotate(40 262 385)"/>
<ellipse cx="288" cy="372.6" rx="4" ry="3.5" fill="#242424" transform="rotate(0 288 372.6)"/>
<ellipse cx="274" cy="470.5" rx="5" ry="6" fill="#242424" transform="rotate(0 274 470.5)"/>
<ellipse cx="298" cy="518" rx="3.5" ry="5" fill="#242424" transform="rotate(0 298 518)"/>
<ellipse cx="283" cy="498" rx="6" ry="6" fill="#242424" transform="rotate(0 283 498)"/>
<ellipse cx="280" cy="305" rx="6" ry="5" fill="#242424" transform="rotate(0 280 305)"/>
<ellipse cx="293" cy="318" rx="5" ry="6" fill="#242424" transform="rotate(0 293 318)"/>
<ellipse cx="299.3" cy="263.7" rx="5" ry="3.5" fill="#242424" transform="rotate(40 299.3 263.7)"/>
<ellipse cx="330" cy="264" rx="9" ry="6" fill="#242424" transform="rotate(20 330 264)"/>
<path d="M303.0 246.0 L316.0 262.0" fill="none" stroke="#242424" stroke-width="5" stroke-linecap="round" stroke-linejoin="round"/>
<ellipse cx="288" cy="452" rx="5" ry="4" fill="#242424" transform="rotate(0 288 452)"/>
<ellipse cx="280" cy="520" rx="6" ry="5" fill="#242424" transform="rotate(40 280 520)"/>
<ellipse cx="292" cy="440" rx="4" ry="3" fill="#242424" transform="rotate(0 292 440)"/>
<ellipse cx="270" cy="448" rx="4" ry="5" fill="#242424" transform="rotate(0 270 448)"/>
<ellipse cx="272" cy="400" rx="4" ry="4" fill="#242424" transform="rotate(0 272 400)"/>
<ellipse cx="265" cy="343" rx="5" ry="4" fill="#242424" transform="rotate(50 265 343)"/>
<polygon points="296.0,244.0 310.0,228.0 326.0,228.0 358.0,270.0 358.0,278.0 304.0,278.0 304.0,262.0" fill="#a1a1a1"/>
<polygon points="301.0,244.0 312.0,230.0 326.0,230.0 357.0,270.0 357.0,277.0 306.0,277.0 306.0,262.0" fill="#c9c9c9"/>
<path d="M301.0 240.0 L312.0 254.0 L321.0 268.0" fill="none" stroke="#6a6a6a" stroke-width="8.5" stroke-linecap="round" stroke-linejoin="round"/>
<path d="M305.0 245.0 L313.0 256.0" fill="none" stroke="#242424" stroke-width="3.5" stroke-linecap="round" stroke-linejoin="round"/>
<ellipse cx="331" cy="264" rx="10.5" ry="7.5" fill="#6a6a6a" transform="rotate(20 331 264)"/>
<ellipse cx="331" cy="264" rx="7.5" ry="5" fill="#242424" transform="rotate(20 331 264)"/>
<ellipse cx="326" cy="247" rx="3.5" ry="2.5" fill="#ffffff" transform="rotate(50 326 247)"/>
<ellipse cx="340" cy="262" rx="2.5" ry="4" fill="#ffffff" transform="rotate(0 340 262)"/>
<ellipse cx="286" cy="270" rx="18" ry="10" fill="#a1a1a1" transform="rotate(-40 286 270)"/>
<ellipse cx="285" cy="270" rx="15" ry="7" fill="#c9c9c9" transform="rotate(-40 285 270)"/>
<ellipse cx="299.3" cy="263.7" rx="4.5" ry="3.2" fill="#242424" transform="rotate(40 299.3 263.7)"/>
<ellipse cx="283" cy="272" rx="3" ry="2" fill="#ffffff" transform="rotate(-40 283 272)"/>
<ellipse cx="271" cy="288" rx="12" ry="7.5" fill="#a1a1a1" transform="rotate(50 271 288)"/>
<ellipse cx="271" cy="288" rx="9.5" ry="4.8" fill="#c9c9c9" transform="rotate(50 271 288)"/>
<ellipse cx="270" cy="287" rx="3" ry="1.8" fill="#ffffff" transform="rotate(50 270 287)"/>
<ellipse cx="298.5" cy="297" rx="5.5" ry="13" fill="#a1a1a1" transform="rotate(0 298.5 297)"/>
<ellipse cx="299.5" cy="296" rx="3.8" ry="9.5" fill="#c9c9c9" transform="rotate(0 299.5 296)"/>
<ellipse cx="290" cy="283" rx="5" ry="4" fill="#a1a1a1" transform="rotate(0 290 283)"/>
<ellipse cx="283" cy="293" rx="3" ry="2.5" fill="#c9c9c9" transform="rotate(0 283 293)"/>
<ellipse cx="270" cy="300" rx="4" ry="3" fill="#a1a1a1" transform="rotate(0 270 300)"/>
<path d="M212.0 332.5 L226.0 346.0 L236.0 357.0 L243.0 368.0 L249.0 371.5" fill="none" stroke="#a1a1a1" stroke-width="9.5" stroke-linecap="round" stroke-linejoin="round"/>
<path d="M212.5 333.0 L226.0 346.0 L236.0 357.0 L243.0 368.0" fill="none" stroke="#c9c9c9" stroke-width="5" stroke-linecap="round" stroke-linejoin="round"/>
<path d="M261.0 318.0 L275.0 333.0 L289.0 346.0" fill="none" stroke="#a1a1a1" stroke-width="10" stroke-linecap="round" stroke-linejoin="round"/>
<path d="M264.0 321.0 L270.0 328.0" fill="none" stroke="#c9c9c9" stroke-width="4.5" stroke-linecap="round" stroke-linejoin="round"/>
<path d="M276.0 334.0 L287.0 344.0" fill="none" stroke="#c9c9c9" stroke-width="4.5" stroke-linecap="round" stroke-linejoin="round"/>
<ellipse cx="293" cy="409" rx="8" ry="16" fill="#a1a1a1" transform="rotate(15 293 409)"/>
<ellipse cx="288" cy="402" rx="3" ry="5" fill="#c9c9c9" transform="rotate(20 288 402)"/>
<ellipse cx="293.6" cy="414.7" rx="3" ry="3" fill="#c9c9c9" transform="rotate(0 293.6 414.7)"/>
<ellipse cx="299.2" cy="421.7" rx="3" ry="3.5" fill="#c9c9c9" transform="rotate(0 299.2 421.7)"/>
<ellipse cx="284" cy="366" rx="10" ry="6" fill="#a1a1a1" transform="rotate(10 284 366)"/>
<ellipse cx="286.6" cy="364.2" rx="3.2" ry="3.2" fill="#c9c9c9" transform="rotate(0 286.6 364.2)"/>
<ellipse cx="272.5" cy="375.4" rx="4" ry="3" fill="#a1a1a1" transform="rotate(0 272.5 375.4)"/>
<ellipse cx="296" cy="376" rx="5.5" ry="4.5" fill="#a1a1a1" transform="rotate(0 296 376)"/>
<ellipse cx="297" cy="376.5" rx="2.5" ry="2" fill="#c9c9c9" transform="rotate(0 297 376.5)"/>
<ellipse cx="248.7" cy="407.7" rx="4.5" ry="2.6" fill="#a1a1a1" transform="rotate(0 248.7 407.7)"/>
<ellipse cx="248" cy="395" rx="3" ry="2.5" fill="#a1a1a1" transform="rotate(0 248 395)"/>
<ellipse cx="244.1" cy="311" rx="2.5" ry="2.5" fill="#a1a1a1" transform="rotate(0 244.1 311)"/>
<ellipse cx="249.7" cy="323.7" rx="2.5" ry="2.5" fill="#a1a1a1" transform="rotate(0 249.7 323.7)"/>
<ellipse cx="258.5" cy="415.4" rx="6.1" ry="6.1" fill="#a1a1a1" transform="rotate(0 258.5 415.4)"/>
<ellipse cx="258.5" cy="415.4" rx="2.4" ry="2.4" fill="#c9c9c9" transform="rotate(0 258.5 415.4)"/>
<ellipse cx="263.4" cy="427.3" rx="6.1" ry="6.1" fill="#a1a1a1" transform="rotate(0 263.4 427.3)"/>
<ellipse cx="263.4" cy="427.3" rx="2.4" ry="2.4" fill="#c9c9c9" transform="rotate(0 263.4 427.3)"/>
<ellipse cx="270.4" cy="431.5" rx="6.1" ry="6.1" fill="#a1a1a1" transform="rotate(0 270.4 431.5)"/>
<ellipse cx="270.4" cy="431.5" rx="2.4" ry="2.4" fill="#c9c9c9" transform="rotate(0 270.4 431.5)"/>
<ellipse cx="283" cy="435.7" rx="6.300000000000001" ry="6.300000000000001" fill="#a1a1a1" transform="rotate(0 283 435.7)"/>
<ellipse cx="283" cy="435.7" rx="2.6" ry="2.6" fill="#c9c9c9" transform="rotate(0 283 435.7)"/>
<ellipse cx="269.6" cy="432" rx="5.9" ry="5.9" fill="#a1a1a1" transform="rotate(0 269.6 432)"/>
<ellipse cx="269.6" cy="432" rx="2.2" ry="2.2" fill="#c9c9c9" transform="rotate(0 269.6 432)"/>
<ellipse cx="283.6" cy="435.6" rx="6.300000000000001" ry="6.300000000000001" fill="#a1a1a1" transform="rotate(0 283.6 435.6)"/>
<ellipse cx="283.6" cy="435.6" rx="2.6" ry="2.6" fill="#c9c9c9" transform="rotate(0 283.6 435.6)"/>
<ellipse cx="245.7" cy="458" rx="5.8" ry="8.4" fill="#a1a1a1" transform="rotate(50 245.7 458)"/>
<ellipse cx="245.7" cy="458" rx="2.8" ry="5.4" fill="#c9c9c9" transform="rotate(50 245.7 458)"/>
<ellipse cx="290.6" cy="465" rx="4.6" ry="5.2" fill="#a1a1a1" transform="rotate(0 290.6 465)"/>
<ellipse cx="290.6" cy="465" rx="2.4" ry="3" fill="#c9c9c9" transform="rotate(0 290.6 465)"/>
<ellipse cx="299.7" cy="474.9" rx="4.6" ry="5.4" fill="#a1a1a1" transform="rotate(0 299.7 474.9)"/>
<ellipse cx="299.7" cy="474.9" rx="2.4" ry="3.2" fill="#c9c9c9" transform="rotate(0 299.7 474.9)"/>
<ellipse cx="196.1" cy="393.7" rx="3.6" ry="3.6" fill="#a1a1a1" transform="rotate(0 196.1 393.7)"/>
<ellipse cx="196.1" cy="393.7" rx="1.6" ry="1.6" fill="#c9c9c9" transform="rotate(0 196.1 393.7)"/>
<ellipse cx="282" cy="355" rx="4" ry="3" fill="#a1a1a1" transform="rotate(0 282 355)"/>
<ellipse cx="300" cy="335" rx="3" ry="4" fill="#a1a1a1" transform="rotate(0 300 335)"/>
<ellipse cx="262" cy="366" rx="3" ry="2.5" fill="#a1a1a1" transform="rotate(0 262 366)"/>
<ellipse cx="277" cy="412" rx="3.5" ry="3" fill="#a1a1a1" transform="rotate(0 277 412)"/>
<ellipse cx="268" cy="402" rx="3" ry="2.5" fill="#a1a1a1" transform="rotate(0 268 402)"/>
<ellipse cx="300" cy="392" rx="3" ry="5" fill="#a1a1a1" transform="rotate(0 300 392)"/>
<ellipse cx="286" cy="447" rx="3" ry="3" fill="#a1a1a1" transform="rotate(0 286 447)"/>
<ellipse cx="300" cy="460" rx="2.5" ry="4" fill="#a1a1a1" transform="rotate(0 300 460)"/>
<ellipse cx="256" cy="330" rx="3" ry="2.5" fill="#a1a1a1" transform="rotate(0 256 330)"/>
<ellipse cx="290" cy="328" rx="3" ry="2.5" fill="#a1a1a1" transform="rotate(0 290 328)"/>
<ellipse cx="195.5" cy="393.3" rx="3" ry="3" fill="#a1a1a1" transform="rotate(0 195.5 393.3)"/>
<ellipse cx="213" cy="415" rx="3" ry="4.5" fill="#a1a1a1" transform="rotate(50 213 415)"/>
<ellipse cx="222" cy="435.4" rx="3" ry="3.5" fill="#a1a1a1" transform="rotate(0 222 435.4)"/>
<ellipse cx="227" cy="418" rx="2.2" ry="2.2" fill="#a1a1a1" transform="rotate(0 227 418)"/>
<ellipse cx="213.7" cy="378.4" rx="1.8" ry="1.8" fill="#a1a1a1" transform="rotate(0 213.7 378.4)"/>
<ellipse cx="172.3" cy="403.6" rx="1.6" ry="1.6" fill="#a1a1a1" transform="rotate(0 172.3 403.6)"/>
<ellipse cx="293.4" cy="453.8" rx="3" ry="3" fill="#a1a1a1" transform="rotate(0 293.4 453.8)"/>
<ellipse cx="296.5" cy="486.5" rx="3.5" ry="5" fill="#a1a1a1" transform="rotate(0 296.5 486.5)"/>
<ellipse cx="297" cy="498" rx="3" ry="3" fill="#a1a1a1" transform="rotate(0 297 498)"/>
<ellipse cx="300" cy="506" rx="2.5" ry="3" fill="#a1a1a1" transform="rotate(0 300 506)"/>
<ellipse cx="165" cy="358" rx="2.5" ry="2" fill="#a1a1a1" transform="rotate(0 165 358)"/>
<ellipse cx="176" cy="366" rx="2.2" ry="2" fill="#a1a1a1" transform="rotate(0 176 366)"/>
<ellipse cx="185" cy="377" rx="2.2" ry="2" fill="#a1a1a1" transform="rotate(0 185 377)"/>
<ellipse cx="279" cy="458" rx="2" ry="2" fill="#a1a1a1" transform="rotate(0 279 458)"/>
<ellipse cx="301" cy="443" rx="2" ry="3" fill="#a1a1a1" transform="rotate(0 301 443)"/></g></g></g></g>
<g transform="translate(506.2 -2.0)"><g transform="rotate(-52 133.8 392.3)"><ellipse cx="133.8" cy="392.3" rx="4.3" ry="2.7" fill="#dcdce4" stroke="#8c8c96" stroke-width="0.7"/><ellipse cx="133.8" cy="392.3" rx="2.3" ry="1.2" fill="#fafafa" stroke="#6e6e78" stroke-width="0.5"/></g></g>
<path d="M217.6 501.7 L304.5 432.4" stroke="#fff" stroke-width="2.4" fill="none"/><path d="M304 277 L304 533" stroke="#c8d8b8" stroke-width="1.2" fill="none" opacity="0.8"/><g fill="none" stroke="#a6a6ae" stroke-width="0.75"><path d="M305.0 272.7 L310.3 273.6 M311.4 274.0 L314.5 272.9 M313.9 277.0 C314.3 274.3 318.1 274.3 318.6 277.0 M318.8 277.0 C319.1 274.4 321.5 274.4 321.7 277.0 M322.4 276.4 L328.2 274.2 M327.1 277.0 C327.4 272.7 329.8 272.7 330.1 277.0 M329.6 277.0 C330.3 272.7 335.6 272.7 336.3 277.0 M337.8 277.0 C338.3 273.2 342.3 273.2 342.8 277.0 M343.9 275.6 L349.5 275.3 M348.5 277.0 C348.9 274.8 351.7 274.8 352.0 277.0"/><path d="M307.0 276.5 L315.6 274.0 M313.5 274.0 L321.7 276.3 M321.1 277.0 C321.8 275.2 327.7 275.2 328.4 277.0 M327.4 276.3 L335.5 274.2 M335.6 277.0 C336.1 274.9 340.1 274.9 340.6 277.0 M339.5 274.2 L346.2 275.1 M345.9 277.0 C346.3 274.0 349.6 274.0 350.0 277.0"/><path d="M245.0 538.0 C245.6 533.3 250.7 533.3 251.4 538.0 M250.6 538.0 C250.9 533.8 253.4 533.8 253.8 538.0 M254.2 538.0 C254.6 533.5 258.4 533.5 258.8 538.0 M259.5 538.0 C259.8 534.5 261.8 534.5 262.0 538.0"/><path d="M276.0 537.7 L280.5 535.6 M280.2 538.0 C280.5 534.7 283.2 534.7 283.5 538.0 M283.4 538.0 C283.7 535.8 285.7 535.8 286.0 538.0"/><path d="M291.0 538.0 C291.4 533.1 294.7 533.1 295.1 538.0 M295.5 537.0 L299.0 534.8 M298.9 538.0 C299.3 534.4 302.6 534.4 303.0 538.0"/></g>
<g transform="translate(506.2 -2.0)"><path d="M217.6 501.7 L304.5 432.4" stroke="#fff" stroke-width="2.4" fill="none"/><path d="M304 277 L304 533" stroke="#c8d8b8" stroke-width="1.2" fill="none" opacity="0.8"/><g fill="none" stroke="#a6a6ae" stroke-width="0.75"><path d="M305.0 277.0 C305.4 273.6 308.7 273.6 309.1 277.0 M309.3 277.0 C309.9 274.8 314.4 274.8 315.0 277.0 M316.0 274.8 L320.2 273.2 M320.1 273.0 L325.9 274.6 M326.6 274.3 L332.4 275.6 M331.0 273.0 L337.7 273.7 M339.1 277.0 C339.6 272.9 343.4 272.9 343.9 277.0 M344.9 277.0 C345.6 274.7 350.9 274.7 351.6 277.0"/><path d="M306.0 274.5 L311.6 276.4 M310.8 276.6 L315.8 275.4 M315.1 275.2 L320.9 277.0 M320.3 274.6 L325.3 274.5 M325.9 277.0 C326.8 274.3 334.3 274.3 335.2 277.0 M336.8 275.7 L343.7 275.9 M343.4 274.6 L349.3 274.0"/><path d="M247.0 538.0 C247.4 535.4 250.7 535.4 251.1 538.0 M250.4 533.8 L253.8 534.0 M253.3 538.0 C253.9 534.9 258.1 534.9 258.7 538.0 M257.6 533.8 L261.6 533.8 M261.0 533.6 L265.4 533.4 M264.5 538.0 C265.1 533.7 269.6 533.7 270.1 538.0 M269.2 533.5 L274.3 535.2 M273.8 533.6 L280.6 535.4 M280.3 538.0 C280.9 534.4 285.3 534.4 285.9 538.0 M285.3 538.0 C286.0 535.5 291.1 535.5 291.8 538.0 M292.2 538.0 C292.6 534.1 296.1 534.1 296.5 538.0 M296.1 538.0 C296.8 535.1 302.3 535.1 303.0 538.0"/><path d="M250.0 535.0 L254.8 537.1 M254.2 538.0 C255.0 535.4 261.5 535.4 262.4 538.0 M263.1 538.0 C263.7 535.2 268.8 535.2 269.5 538.0 M268.6 538.0 C269.5 535.9 276.7 535.9 277.6 538.0 M279.0 535.9 L286.6 537.5 M287.2 538.0 C287.7 536.0 291.6 536.0 292.1 538.0 M291.4 536.6 L300.8 536.1"/></g></g>
<use href="#overlay"/>
<use href="#overlay" transform="translate(506.2 -2.0)"/>
<g id="veins1"><g fill="none" stroke="#d4d4d4" stroke-linecap="round">
<path d="M182.6 230.8 L181.6 236.2" stroke-width="5.6"/>
<path d="M182.0 246.0 L183.6 254.0 L186.8 268.5" stroke-width="6.2"/>
<path d="M174.2 247.2 L176.8 246.6" stroke-width="4.2"/>
<path d="M166.8 219.6 L168.6 221.6" stroke-width="1.4"/>
<path d="M145.0 223.3 L147.2 224.2" stroke-width="1.3"/>
<path d="M145.2 230.5 L147.0 231.5" stroke-width="1.6"/>
<path d="M148.5 232.5 L149.6 233.6" stroke-width="1.4"/>
<path d="M151.6 228.2 L152.6 228.7" stroke-width="1.3"/>
<path d="M200.2 231.4 L201.4 232.2" stroke-width="1.6"/>
<path d="M209.8 240.0 L210.8 240.7" stroke-width="1.5"/>
<path d="M205.5 279.5 L211.0 275.5" stroke-width="1.2"/>
<path d="M229.0 296.0 L232.5 298.5" stroke-width="1.2"/>
</g>
<g fill="none" stroke="#9c9c9c" stroke-linecap="round">
<path d="M182.5 244.5 L182.8 249.0" stroke-width="0.8"/>
<path d="M180.5 243.8 L184.5 244.0" stroke-width="0.8"/>
<path d="M184.6 256.0 L185.0 258.5" stroke-width="0.7"/>
<path d="M184.2 262.0 L184.8 264.0" stroke-width="0.7"/>
<path d="M183.2 229.2 L183.6 230.0" stroke-width="0.7"/>
<path d="M173.5 249.5 L174.5 250.5" stroke-width="0.7"/>
<path d="M178.3 258.4 L178.9 259.0" stroke-width="0.7"/>
<path d="M189.6 255.5 L190.0 257.0" stroke-width="0.7"/>
</g>
<g fill="none" stroke="#000" stroke-linecap="round" stroke-linejoin="round">
<path d="M43.4 108.0 L47.9 110.5" stroke-width="4.5"/>
<path d="M100.9 127.0 L103.2 134.0 L103.9 141.3 L103.7 152.0 L103.5 160.9" stroke-width="1.6"/>
<path d="M77.5 140.6 L81.0 149.0 L85.0 156.0 L89.3 162.1" stroke-width="1.9"/>
<path d="M74.5 124.0 L77.5 121.4" stroke-width="1.0"/>
<path d="M77.5 130.7 L79.0 125.5" stroke-width="1.9"/>
<path d="M79.8 125.5 L82.8 122.9" stroke-width="1.0"/>
<path d="M83.6 130.7 L85.8 129.5" stroke-width="1.2"/>
<path d="M87.3 136.0 L93.4 131.0" stroke-width="1.0"/>
<path d="M91.1 138.6 L94.9 135.3" stroke-width="1.2"/>
<path d="M92.6 117.2 L92.6 120.2" stroke-width="1.2"/>
<path d="M60.9 155.2 L67.0 157.1" stroke-width="1.8"/>
<path d="M67.0 149.0 L70.7 150.4" stroke-width="1.3"/>
<path d="M69.0 147.5 L69.6 151.5" stroke-width="1.2"/>
<path d="M70.7 159.7 L74.5 162.7" stroke-width="1.3"/>
<path d="M163.5 196.4 L158.3 214.5" stroke-width="1.6"/>
<path d="M168.8 199.4 L164.3 213.0" stroke-width="1.8"/>
<path d="M156.5 214.5 L156.5 219.0" stroke-width="1.0"/>
<path d="M165.5 200.5 L169.5 202.5" stroke-width="1.0"/>
<path d="M83.1 259.4 L89.2 270.4" stroke-width="1.3"/>
<path d="M123.9 275.5 L123.2 278.3" stroke-width="1.4"/>
<path d="M51.9 328.8 L52.3 334.3" stroke-width="1.6"/>
<path d="M73.8 332.1 L71.0 340.0 L68.5 346.4" stroke-width="1.6"/>
<path d="M71.0 326.0 L78.5 329.0" stroke-width="1.0"/>
<path d="M74.5 323.5 L73.5 331.0" stroke-width="1.0"/>
<path d="M310.3 111.1 L310.8 114.5" stroke-width="1.1"/>
<path d="M311.0 116.5 L311.5 122.4" stroke-width="1.1"/>
<path d="M311.1 125.9 L304.3 133.3" stroke-width="1.4"/>
<path d="M328.7 112.6 L327.5 114.9" stroke-width="1.4"/>
<path d="M347.5 112.6 L352.0 107.4" stroke-width="1.0"/>
<path d="M352.8 105.1 L356.0 103.6 L358.1 104.3 L357.3 109.6" stroke-width="1.0"/>
<path d="M361.9 105.1 L364.1 103.8" stroke-width="1.0"/>
<path d="M362.6 113.4 L367.1 108.9" stroke-width="1.1"/>
<path d="M359.5 110.5 L362.5 107.5" stroke-width="1.0"/>
<path d="M396.7 80.8 L404.0 95.0 L413.3 111.7" stroke-width="1.1" stroke-dasharray="4.1 0.9 2.3 0.7" stroke-linecap="butt"/>
<path d="M405.0 77.5 L410.0 96.7 L418.3 120.0" stroke-width="1.2" stroke-dasharray="5.3 0.9 2.9 0.7" stroke-linecap="butt"/>
<path d="M409.2 83.3 L401.7 101.7 L390.0 120.0" stroke-width="1.1" stroke-dasharray="3.5 0.9 1.9 0.7" stroke-linecap="butt"/>
<path d="M395.0 85.0 L388.3 96.7 L390.0 108.3" stroke-width="1.0" stroke-dasharray="4.7 0.9 2.6 0.7" stroke-linecap="butt"/>
<path d="M377.5 105.8 L385.8 120.8" stroke-width="1.1" stroke-dasharray="5.9 0.9 3.2 0.7" stroke-linecap="butt"/>
<path d="M383.3 100.8 L380.0 116.7" stroke-width="1.0" stroke-dasharray="4.1 0.9 2.3 0.7" stroke-linecap="butt"/>
<path d="M395.0 106.7 L386.7 120.8" stroke-width="1.0" stroke-dasharray="5.3 0.9 2.9 0.7" stroke-linecap="butt"/>
<path d="M406.7 100.0 L416.7 118.3" stroke-width="1.1" stroke-dasharray="3.5 0.9 1.9 0.7" stroke-linecap="butt"/>
<path d="M413.3 100.0 L423.3 120.0" stroke-width="1.1" stroke-dasharray="4.7 0.9 2.6 0.7" stroke-linecap="butt"/>
<path d="M418.3 103.3 L431.7 120.0" stroke-width="1.1" stroke-dasharray="5.9 0.9 3.2 0.7" stroke-linecap="butt"/>
<path d="M426.7 103.3 L430.0 118.3" stroke-width="1.2" stroke-dasharray="4.1 0.9 2.3 0.7" stroke-linecap="butt"/>
<path d="M421.7 103.3 L428.3 116.7" stroke-width="1.0" stroke-dasharray="5.3 0.9 2.9 0.7" stroke-linecap="butt"/>
<path d="M390.0 90.0 L398.3 103.3" stroke-width="1.0" stroke-dasharray="3.5 0.9 1.9 0.7" stroke-linecap="butt"/>
<path d="M424.0 108.0 L432.0 119.0" stroke-width="1.0" stroke-dasharray="4.7 0.9 2.6 0.7" stroke-linecap="butt"/>
<path d="M428.0 100.0 L426.0 112.0" stroke-width="1.0" stroke-dasharray="5.9 0.9 3.2 0.7" stroke-linecap="butt"/>
<path d="M382.5 83.3 L383.3 86.0" stroke-width="0.9"/>
<path d="M383.8 88.0 L385.0 93.3" stroke-width="0.9"/>
<path d="M403.3 108.3 L400.0 114.0" stroke-width="0.9"/>
<path d="M399.0 116.0 L398.3 118.3" stroke-width="0.9"/>
<path d="M392.0 82.0 L394.0 86.0" stroke-width="1.0"/>
<path d="M402.0 87.0 L406.0 93.0" stroke-width="1.0"/>
<path d="M430.8 59.2 L430.8 65.0" stroke-width="1.1"/>
<path d="M431.3 76.7 L430.6 81.0" stroke-width="1.3"/>
<path d="M430.4 83.0 L430.0 86.7" stroke-width="1.1"/>
<path d="M436.7 78.3 L436.3 83.3" stroke-width="1.1"/>
<path d="M435.3 87.5 L434.9 92.0" stroke-width="1.0"/>
<path d="M434.7 94.0 L434.2 98.3" stroke-width="1.0"/>
<path d="M423.0 89.5 L426.0 88.3 L428.0 90.5 L427.5 94.5" stroke-width="1.0" stroke-dasharray="3.5 0.9 1.9 0.7" stroke-linecap="butt"/>
<path d="M422.0 92.5 L424.5 96.5 L428.5 98.5" stroke-width="1.0" stroke-dasharray="4.7 0.9 2.6 0.7" stroke-linecap="butt"/>
<path d="M429.0 96.0 L430.0 101.0" stroke-width="1.0"/>
<path d="M432.0 50.0 L434.0 53.5 L436.5 55.5" stroke-width="0.9"/>
<path d="M433.5 48.6 L435.0 50.5" stroke-width="0.9"/>
<path d="M437.0 52.0 L439.5 57.5" stroke-width="0.9"/>
<path d="M440.5 53.0 L443.0 55.5 L442.5 59.5" stroke-width="0.9"/>
<path d="M436.0 58.0 L438.0 60.5" stroke-width="0.9"/>
<path d="M448.0 61.2 L449.2 58.5" stroke-width="0.9"/>
<path d="M452.2 77.0 L454.2 78.8" stroke-width="1.1"/>
<path d="M396.5 64.8 L398.5 66.0" stroke-width="1.1"/>
<path d="M240.9 214.5 L244.0 220.5 L248.5 227.3" stroke-width="1.2"/>
<path d="M247.0 218.3 L253.0 226.6" stroke-width="1.1"/>
<path d="M247.5 227.2 L253.5 226.8" stroke-width="1.0"/>
<path d="M243.5 216.5 L247.0 223.0" stroke-width="1.1"/>
<path d="M251.2 203.8 L253.2 206.2" stroke-width="1.8"/>
<path d="M248.5 210.4 L252.2 212.3" stroke-width="1.2"/>
<path d="M258.3 223.1 L260.5 224.0" stroke-width="1.1"/>
<path d="M272.6 210.4 L277.1 215.3" stroke-width="1.6"/>
<path d="M269.6 222.1 L271.4 227.3" stroke-width="1.1"/>
<path d="M277.9 202.4 L277.9 204.0" stroke-width="1.0"/>
<path d="M293.0 223.6 L293.0 227.3" stroke-width="1.0"/>
<path d="M261.0 197.3 L263.0 198.6" stroke-width="1.5"/>
<path d="M242.3 199.5 L243.6 198.0" stroke-width="1.2"/>
<path d="M325.2 215.3 L333.0 222.0 L341.7 231.1 L347.0 238.0 L351.1 244.8 L354.9 252.6 L354.9 269.0" stroke-width="2.0"/>
<path d="M333.2 196.3 L340.0 204.0 L346.9 212.1" stroke-width="1.4"/>
<path d="M339.1 192.1 L342.5 195.0 L345.9 198.5" stroke-width="1.4"/>
<path d="M342.7 207.9 L349.0 214.3" stroke-width="1.6"/>
<path d="M344.8 204.8 L349.0 209.0" stroke-width="1.4"/>
<path d="M313.2 243.8 L316.0 251.0 L319.5 258.5 L322.5 266.0 L325.8 273.3" stroke-width="1.5"/>
<path d="M321.5 262.0 L327.0 269.0 L331.0 274.0" stroke-width="1.2"/>
<path d="M282.4 271.6 L285.0 277.0 L287.7 283.2" stroke-width="1.4"/>
<path d="M287.7 264.2 L293.0 270.0 L299.3 274.8" stroke-width="1.4"/>
<path d="M279.5 264.5 L283.0 268.0" stroke-width="1.2"/>
<path d="M284.5 278.0 L288.0 285.0" stroke-width="1.0"/>
<path d="M286.0 272.5 L290.0 280.0" stroke-width="1.0"/>
<path d="M265.6 305.3 L270.0 312.5 L276.1 320.1 L282.0 327.0 L288.8 331.7" stroke-width="1.5"/>
<path d="M287.7 300.1 L288.8 307.4 L293.5 315.0 L299.3 323.2" stroke-width="1.5"/>
<path d="M287.7 300.3 L290.5 298.0" stroke-width="1.0"/>
<path d="M285.5 329.0 L289.0 331.5 L286.0 333.0" stroke-width="1.0"/>
<path d="M229.8 335.9 L235.0 342.0 L239.0 347.0 L242.4 349.6 L247.0 355.0 L251.0 361.0 L253.5 367.0" stroke-width="1.4"/>
<path d="M227.0 346.5 L233.0 350.5 L236.0 354.0 L237.5 359.5 L241.0 364.0 L242.5 370.0" stroke-width="1.3"/>
<path d="M247.5 359.5 L249.0 365.0 L248.0 369.5" stroke-width="1.2"/>
<path d="M251.5 362.0 L256.5 366.5 L258.0 369.0" stroke-width="1.2"/>
<path d="M243.5 361.0 L243.0 366.5" stroke-width="1.2"/>
<path d="M259.5 366.5 L261.5 364.8" stroke-width="1.0"/>
<path d="M170.0 369.5 L174.0 374.0 L179.0 381.5" stroke-width="1.3"/>
<path d="M184.0 377.5 L188.5 380.0" stroke-width="1.2"/>
<path d="M186.0 374.5 L191.5 378.0 L195.0 383.0" stroke-width="1.2"/>
<path d="M189.5 373.0 L195.0 376.0 L199.0 381.0" stroke-width="1.2"/>
<path d="M193.5 372.5 L198.5 375.0 L201.5 379.5" stroke-width="1.1"/>
<path d="M197.0 383.0 L201.0 385.5" stroke-width="1.0"/>
<path d="M208.8 368.5 L207.6 372.5" stroke-width="1.0"/>
<path d="M282.0 393.0 L281.6 400.5" stroke-width="1.3"/>
<path d="M270.5 435.6 L269.7 439.0" stroke-width="1.0"/>
<path d="M269.0 442.0 L268.0 446.0" stroke-width="1.0"/>
<path d="M267.0 450.0 L265.6 456.6" stroke-width="1.0"/>
<path d="M281.0 446.1 L286.6 443.3" stroke-width="1.4"/>
<path d="M289.4 451.0 L290.8 454.5" stroke-width="1.1"/>
<path d="M243.8 486.0 L245.9 491.7" stroke-width="1.0"/>
<path d="M255.7 478.4 L256.4 485.4" stroke-width="1.0"/>
<path d="M256.2 488.5 L253.6 496.0" stroke-width="1.0"/>
<path d="M242.0 466.0 L242.6 468.5" stroke-width="1.0"/>
</g>
<g fill="#000">
<circle cx="53.4" cy="106.3" r="0.9"/>
<circle cx="35.7" cy="116.4" r="0.9"/>
<circle cx="43.6" cy="97.2" r="0.78"/>
<circle cx="121.3" cy="97.5" r="0.9"/>
<circle cx="120.4" cy="99.3" r="0.75"/>
<circle cx="145.4" cy="97.5" r="0.75"/>
<circle cx="148.5" cy="98.3" r="0.78"/>
<circle cx="110" cy="119.1" r="0.75"/>
<circle cx="129.9" cy="118.7" r="0.75"/>
<circle cx="95" cy="159.4" r="0.75"/>
<circle cx="98.7" cy="167" r="0.78"/>
<circle cx="85.8" cy="170" r="0.75"/>
<circle cx="95.6" cy="172.7" r="0.78"/>
<circle cx="53.4" cy="173.7" r="0.75"/>
<circle cx="142.4" cy="173" r="0.75"/>
<circle cx="147.7" cy="174.5" r="0.9"/>
<circle cx="54.1" cy="174.5" r="0.78"/>
<circle cx="55.2" cy="176" r="0.75"/>
<circle cx="86.6" cy="175.3" r="0.9"/>
<circle cx="95.2" cy="172.3" r="0.78"/>
<circle cx="90.7" cy="181.3" r="0.9"/>
<circle cx="90.2" cy="183" r="0.75"/>
<circle cx="88.1" cy="185.1" r="0.75"/>
<circle cx="119" cy="179.8" r="0.75"/>
<circle cx="124" cy="184.8" r="0.9"/>
<circle cx="125.5" cy="184" r="0.78"/>
<circle cx="127.4" cy="184.9" r="0.78"/>
<circle cx="129.6" cy="189.6" r="0.9"/>
<circle cx="131" cy="192.5" r="0.78"/>
<circle cx="123.6" cy="193.4" r="0.9"/>
<circle cx="133.4" cy="197.2" r="1.01"/>
<circle cx="141.7" cy="201.2" r="0.9"/>
<circle cx="147.7" cy="175.3" r="0.9"/>
<circle cx="139.4" cy="211.5" r="0.75"/>
<circle cx="134.9" cy="216.8" r="0.9"/>
<circle cx="129.6" cy="221" r="0.9"/>
<circle cx="83.6" cy="224.8" r="0.75"/>
<circle cx="42.8" cy="218.6" r="0.9"/>
<circle cx="45.8" cy="217.1" r="0.78"/>
<circle cx="46.6" cy="222.8" r="0.9"/>
<circle cx="50.1" cy="226.9" r="0.9"/>
<circle cx="53" cy="218.2" r="0.78"/>
<circle cx="55.2" cy="217.6" r="0.78"/>
<circle cx="57.2" cy="221.3" r="0.9"/>
<circle cx="73.8" cy="243.9" r="1.01"/>
<circle cx="77.5" cy="245.9" r="0.78"/>
<circle cx="88.1" cy="255.3" r="0.9"/>
<circle cx="88.1" cy="255.7" r="0.78"/>
<circle cx="89.6" cy="280.6" r="0.78"/>
<circle cx="90.4" cy="288.8" r="0.78"/>
<circle cx="85.1" cy="290.7" r="1.01"/>
<circle cx="86.6" cy="291" r="0.75"/>
<circle cx="82.8" cy="295.3" r="0.78"/>
<circle cx="83.5" cy="293.5" r="0.75"/>
<circle cx="120.5" cy="286.2" r="0.78"/>
<circle cx="122.5" cy="289.2" r="0.9"/>
<circle cx="145" cy="288" r="0.75"/>
<circle cx="143.9" cy="304.6" r="0.75"/>
<circle cx="135.2" cy="310.8" r="0.9"/>
<circle cx="138.2" cy="317.9" r="0.9"/>
<circle cx="65.5" cy="349.9" r="1.01"/>
<circle cx="71" cy="319.5" r="0.75"/>
<circle cx="74.7" cy="327.8" r="0.9"/>
<circle cx="76" cy="330.3" r="0.78"/>
<circle cx="194.1" cy="104.6" r="0.75"/>
<circle cx="239" cy="113.4" r="0.75"/>
<circle cx="222.8" cy="145.4" r="0.75"/>
<circle cx="236.4" cy="144.8" r="0.75"/>
<circle cx="212" cy="150.8" r="0.78"/>
<circle cx="305.5" cy="152.2" r="0.75"/>
<circle cx="276.8" cy="175.3" r="0.75"/>
<circle cx="308.5" cy="105.5" r="0.78"/>
<circle cx="309.8" cy="108.5" r="0.75"/>
<circle cx="179.4" cy="188.9" r="1.12"/>
<circle cx="214.1" cy="177.8" r="0.78"/>
<circle cx="276.8" cy="176" r="0.78"/>
<circle cx="314.6" cy="181" r="0.9"/>
<circle cx="285.9" cy="188.4" r="0.9"/>
<circle cx="214.2" cy="210.7" r="0.75"/>
<circle cx="231.9" cy="225.1" r="0.9"/>
<circle cx="258.3" cy="188.9" r="1.01"/>
<circle cx="260.5" cy="191.5" r="0.78"/>
<circle cx="262.8" cy="193.5" r="0.78"/>
<circle cx="264.3" cy="194.9" r="0.78"/>
<circle cx="242.9" cy="198.7" r="0.9"/>
<circle cx="274.1" cy="218.3" r="0.9"/>
<circle cx="269.6" cy="237.1" r="0.9"/>
<circle cx="279.9" cy="251.5" r="0.9"/>
<circle cx="262" cy="236" r="0.75"/>
<circle cx="265" cy="235" r="0.75"/>
<circle cx="246" cy="245.5" r="0.75"/>
<circle cx="268.5" cy="246" r="0.75"/>
<circle cx="277.5" cy="208.5" r="0.75"/>
<circle cx="277" cy="213" r="0.75"/>
<circle cx="285.2" cy="188.5" r="0.78"/>
<circle cx="276.7" cy="176.3" r="0.75"/>
<circle cx="314.3" cy="181" r="0.78"/>
<circle cx="347.3" cy="178" r="0.9"/>
<circle cx="358.1" cy="201.2" r="0.9"/>
<circle cx="358.1" cy="225.8" r="0.75"/>
<circle cx="353.2" cy="228" r="0.75"/>
<circle cx="334.4" cy="129.5" r="0.75"/>
<circle cx="337.7" cy="129.5" r="0.75"/>
<circle cx="361.6" cy="117.9" r="0.75"/>
<circle cx="347" cy="114" r="0.75"/>
<circle cx="349.5" cy="110.8" r="0.75"/>
<circle cx="369.7" cy="50.8" r="0.9"/>
<circle cx="370.4" cy="49" r="0.75"/>
<circle cx="383.7" cy="54.2" r="0.78"/>
<circle cx="374.2" cy="60.8" r="0.75"/>
<circle cx="370.3" cy="75.8" r="0.75"/>
<circle cx="357.5" cy="81.7" r="0.75"/>
<circle cx="452" cy="110.3" r="1.01"/>
<circle cx="450.8" cy="66.7" r="0.75"/>
<circle cx="452.5" cy="49.2" r="0.75"/>
<circle cx="430.8" cy="69.5" r="0.75"/>
<circle cx="443.5" cy="50.5" r="0.75"/>
<circle cx="446" cy="57" r="0.75"/>
<circle cx="441" cy="49.6" r="0.75"/>
<circle cx="384.5" cy="95.5" r="0.75"/>
<circle cx="386" cy="98" r="0.75"/>
<circle cx="392.5" cy="111" r="0.75"/>
<circle cx="389" cy="83" r="0.75"/>
<circle cx="398" cy="76.5" r="0.75"/>
<circle cx="404.5" cy="77.5" r="0.75"/>
<circle cx="411" cy="79.8" r="0.75"/>
<circle cx="257" cy="246" r="0.78"/>
<circle cx="259" cy="248.5" r="0.75"/>
<circle cx="262" cy="252" r="0.75"/>
<circle cx="258.5" cy="254.5" r="0.78"/>
<circle cx="249.5" cy="247" r="0.75"/>
<circle cx="238" cy="273.5" r="0.75"/>
<circle cx="230.5" cy="263.5" r="0.75"/>
<circle cx="217.5" cy="273" r="0.75"/>
<circle cx="237.5" cy="281.5" r="0.75"/>
<circle cx="256.3" cy="262.5" r="0.78"/>
<circle cx="257" cy="265" r="0.75"/>
<circle cx="263" cy="262.5" r="0.75"/>
<circle cx="282.6" cy="245.5" r="0.75"/>
<circle cx="280.6" cy="253.5" r="0.78"/>
<circle cx="279.8" cy="255.7" r="0.75"/>
<circle cx="269" cy="243" r="0.75"/>
<circle cx="262.5" cy="246" r="0.75"/>
<circle cx="277" cy="239" r="0.75"/>
<circle cx="223.5" cy="343.5" r="0.75"/>
<circle cx="225.5" cy="345.5" r="0.75"/>
<circle cx="224" cy="347" r="0.75"/>
<circle cx="226.5" cy="348.3" r="0.75"/>
<circle cx="222.5" cy="350.5" r="0.75"/>
<circle cx="221.8" cy="355" r="0.75"/>
<circle cx="223" cy="357.5" r="0.75"/>
<circle cx="285.5" cy="273" r="0.75"/>
<circle cx="287" cy="276" r="0.75"/>
<circle cx="289" cy="274.5" r="0.75"/>
<circle cx="291.5" cy="278" r="0.75"/>
<circle cx="288" cy="280.5" r="0.75"/>
<circle cx="290.5" cy="283" r="0.75"/>
<circle cx="294.2" cy="353.5" r="0.78"/>
<circle cx="203.6" cy="373.2" r="0.75"/>
<circle cx="206" cy="374.5" r="0.75"/>
<circle cx="204.5" cy="376.5" r="0.75"/>
<circle cx="191" cy="384.5" r="0.75"/>
<circle cx="193.5" cy="386" r="0.75"/>
<circle cx="267.3" cy="381" r="0.75"/>
<circle cx="254.2" cy="364.5" r="0.75"/>
<circle cx="263" cy="363" r="0.75"/>
<circle cx="289.6" cy="449.5" r="0.75"/>
<circle cx="287.5" cy="445.8" r="0.75"/>
<circle cx="246.5" cy="382" r="0.75"/>
</g></g>
<g transform="translate(506.2 -2.0)"><g fill="none" stroke="#d4d4d4" stroke-linecap="round">
<path d="M182.6 230.8 L181.6 236.2" stroke-width="5.6"/>
<path d="M182.0 246.0 L183.6 254.0 L186.8 268.5" stroke-width="6.2"/>
<path d="M174.2 247.2 L176.8 246.6" stroke-width="4.2"/>
<path d="M166.8 219.6 L168.6 221.6" stroke-width="1.4"/>
<path d="M145.0 223.3 L147.2 224.2" stroke-width="1.3"/>
<path d="M145.2 230.5 L147.0 231.5" stroke-width="1.6"/>
<path d="M148.5 232.5 L149.6 233.6" stroke-width="1.4"/>
<path d="M151.6 228.2 L152.6 228.7" stroke-width="1.3"/>
<path d="M200.2 231.4 L201.4 232.2" stroke-width="1.6"/>
<path d="M209.8 240.0 L210.8 240.7" stroke-width="1.5"/>
<path d="M205.5 279.5 L211.0 275.5" stroke-width="1.2"/>
<path d="M229.0 296.0 L232.5 298.5" stroke-width="1.2"/>
</g>
<g fill="none" stroke="#9c9c9c" stroke-linecap="round">
<path d="M182.5 244.5 L182.8 249.0" stroke-width="0.8"/>
<path d="M180.5 243.8 L184.5 244.0" stroke-width="0.8"/>
<path d="M184.6 256.0 L185.0 258.5" stroke-width="0.7"/>
<path d="M184.2 262.0 L184.8 264.0" stroke-width="0.7"/>
<path d="M183.2 229.2 L183.6 230.0" stroke-width="0.7"/>
<path d="M173.5 249.5 L174.5 250.5" stroke-width="0.7"/>
<path d="M178.3 258.4 L178.9 259.0" stroke-width="0.7"/>
<path d="M189.6 255.5 L190.0 257.0" stroke-width="0.7"/>
</g>
<g fill="none" stroke="#000" stroke-linecap="round" stroke-linejoin="round">
<path d="M43.4 108.0 L47.9 110.5" stroke-width="4.5"/>
<path d="M100.9 127.0 L103.2 134.0 L103.9 141.3 L103.7 152.0 L103.5 160.9" stroke-width="1.6"/>
<path d="M77.5 140.6 L81.0 149.0 L85.0 156.0 L89.3 162.1" stroke-width="1.9"/>
<path d="M74.5 124.0 L77.5 121.4" stroke-width="1.0"/>
<path d="M77.5 130.7 L79.0 125.5" stroke-width="1.9"/>
<path d="M79.8 125.5 L82.8 122.9" stroke-width="1.0"/>
<path d="M83.6 130.7 L85.8 129.5" stroke-width="1.2"/>
<path d="M87.3 136.0 L93.4 131.0" stroke-width="1.0"/>
<path d="M91.1 138.6 L94.9 135.3" stroke-width="1.2"/>
<path d="M92.6 117.2 L92.6 120.2" stroke-width="1.2"/>
<path d="M60.9 155.2 L67.0 157.1" stroke-width="1.8"/>
<path d="M67.0 149.0 L70.7 150.4" stroke-width="1.3"/>
<path d="M69.0 147.5 L69.6 151.5" stroke-width="1.2"/>
<path d="M70.7 159.7 L74.5 162.7" stroke-width="1.3"/>
<path d="M163.5 196.4 L158.3 214.5" stroke-width="1.6"/>
<path d="M168.8 199.4 L164.3 213.0" stroke-width="1.8"/>
<path d="M156.5 214.5 L156.5 219.0" stroke-width="1.0"/>
<path d="M165.5 200.5 L169.5 202.5" stroke-width="1.0"/>
<path d="M83.1 259.4 L89.2 270.4" stroke-width="1.3"/>
<path d="M123.9 275.5 L123.2 278.3" stroke-width="1.4"/>
<path d="M51.9 328.8 L52.3 334.3" stroke-width="1.6"/>
<path d="M73.8 332.1 L71.0 340.0 L68.5 346.4" stroke-width="1.6"/>
<path d="M71.0 326.0 L78.5 329.0" stroke-width="1.0"/>
<path d="M74.5 323.5 L73.5 331.0" stroke-width="1.0"/>
<path d="M310.3 111.1 L310.8 114.5" stroke-width="1.1"/>
<path d="M311.0 116.5 L311.5 122.4" stroke-width="1.1"/>
<path d="M311.1 125.9 L304.3 133.3" stroke-width="1.4"/>
<path d="M328.7 112.6 L327.5 114.9" stroke-width="1.4"/>
<path d="M347.5 112.6 L352.0 107.4" stroke-width="1.0"/>
<path d="M352.8 105.1 L356.0 103.6 L358.1 104.3 L357.3 109.6" stroke-width="1.0"/>
<path d="M361.9 105.1 L364.1 103.8" stroke-width="1.0"/>
<path d="M362.6 113.4 L367.1 108.9" stroke-width="1.1"/>
<path d="M359.5 110.5 L362.5 107.5" stroke-width="1.0"/>
<path d="M396.7 80.8 L404.0 95.0 L413.3 111.7" stroke-width="1.1" stroke-dasharray="4.1 0.9 2.3 0.7" stroke-linecap="butt"/>
<path d="M405.0 77.5 L410.0 96.7 L418.3 120.0" stroke-width="1.2" stroke-dasharray="5.3 0.9 2.9 0.7" stroke-linecap="butt"/>
<path d="M409.2 83.3 L401.7 101.7 L390.0 120.0" stroke-width="1.1" stroke-dasharray="3.5 0.9 1.9 0.7" stroke-linecap="butt"/>
<path d="M395.0 85.0 L388.3 96.7 L390.0 108.3" stroke-width="1.0" stroke-dasharray="4.7 0.9 2.6 0.7" stroke-linecap="butt"/>
<path d="M377.5 105.8 L385.8 120.8" stroke-width="1.1" stroke-dasharray="5.9 0.9 3.2 0.7" stroke-linecap="butt"/>
<path d="M383.3 100.8 L380.0 116.7" stroke-width="1.0" stroke-dasharray="4.1 0.9 2.3 0.7" stroke-linecap="butt"/>
<path d="M395.0 106.7 L386.7 120.8" stroke-width="1.0" stroke-dasharray="5.3 0.9 2.9 0.7" stroke-linecap="butt"/>
<path d="M406.7 100.0 L416.7 118.3" stroke-width="1.1" stroke-dasharray="3.5 0.9 1.9 0.7" stroke-linecap="butt"/>
<path d="M413.3 100.0 L423.3 120.0" stroke-width="1.1" stroke-dasharray="4.7 0.9 2.6 0.7" stroke-linecap="butt"/>
<path d="M418.3 103.3 L431.7 120.0" stroke-width="1.1" stroke-dasharray="5.9 0.9 3.2 0.7" stroke-linecap="butt"/>
<path d="M426.7 103.3 L430.0 118.3" stroke-width="1.2" stroke-dasharray="4.1 0.9 2.3 0.7" stroke-linecap="butt"/>
<path d="M421.7 103.3 L428.3 116.7" stroke-width="1.0" stroke-dasharray="5.3 0.9 2.9 0.7" stroke-linecap="butt"/>
<path d="M390.0 90.0 L398.3 103.3" stroke-width="1.0" stroke-dasharray="3.5 0.9 1.9 0.7" stroke-linecap="butt"/>
<path d="M424.0 108.0 L432.0 119.0" stroke-width="1.0" stroke-dasharray="4.7 0.9 2.6 0.7" stroke-linecap="butt"/>
<path d="M428.0 100.0 L426.0 112.0" stroke-width="1.0" stroke-dasharray="5.9 0.9 3.2 0.7" stroke-linecap="butt"/>
<path d="M382.5 83.3 L383.3 86.0" stroke-width="0.9"/>
<path d="M383.8 88.0 L385.0 93.3" stroke-width="0.9"/>
<path d="M403.3 108.3 L400.0 114.0" stroke-width="0.9"/>
<path d="M399.0 116.0 L398.3 118.3" stroke-width="0.9"/>
<path d="M392.0 82.0 L394.0 86.0" stroke-width="1.0"/>
<path d="M402.0 87.0 L406.0 93.0" stroke-width="1.0"/>
<path d="M430.8 59.2 L430.8 65.0" stroke-width="1.1"/>
<path d="M431.3 76.7 L430.6 81.0" stroke-width="1.3"/>
<path d="M430.4 83.0 L430.0 86.7" stroke-width="1.1"/>
<path d="M436.7 78.3 L436.3 83.3" stroke-width="1.1"/>
<path d="M435.3 87.5 L434.9 92.0" stroke-width="1.0"/>
<path d="M434.7 94.0 L434.2 98.3" stroke-width="1.0"/>
<path d="M423.0 89.5 L426.0 88.3 L428.0 90.5 L427.5 94.5" stroke-width="1.0" stroke-dasharray="3.5 0.9 1.9 0.7" stroke-linecap="butt"/>
<path d="M422.0 92.5 L424.5 96.5 L428.5 98.5" stroke-width="1.0" stroke-dasharray="4.7 0.9 2.6 0.7" stroke-linecap="butt"/>
<path d="M429.0 96.0 L430.0 101.0" stroke-width="1.0"/>
<path d="M432.0 50.0 L434.0 53.5 L436.5 55.5" stroke-width="0.9"/>
<path d="M433.5 48.6 L435.0 50.5" stroke-width="0.9"/>
<path d="M437.0 52.0 L439.5 57.5" stroke-width="0.9"/>
<path d="M440.5 53.0 L443.0 55.5 L442.5 59.5" stroke-width="0.9"/>
<path d="M436.0 58.0 L438.0 60.5" stroke-width="0.9"/>
<path d="M448.0 61.2 L449.2 58.5" stroke-width="0.9"/>
<path d="M452.2 77.0 L454.2 78.8" stroke-width="1.1"/>
<path d="M396.5 64.8 L398.5 66.0" stroke-width="1.1"/>
<path d="M240.9 214.5 L244.0 220.5 L248.5 227.3" stroke-width="1.2"/>
<path d="M247.0 218.3 L253.0 226.6" stroke-width="1.1"/>
<path d="M247.5 227.2 L253.5 226.8" stroke-width="1.0"/>
<path d="M243.5 216.5 L247.0 223.0" stroke-width="1.1"/>
<path d="M251.2 203.8 L253.2 206.2" stroke-width="1.8"/>
<path d="M248.5 210.4 L252.2 212.3" stroke-width="1.2"/>
<path d="M258.3 223.1 L260.5 224.0" stroke-width="1.1"/>
<path d="M272.6 210.4 L277.1 215.3" stroke-width="1.6"/>
<path d="M269.6 222.1 L271.4 227.3" stroke-width="1.1"/>
<path d="M277.9 202.4 L277.9 204.0" stroke-width="1.0"/>
<path d="M293.0 223.6 L293.0 227.3" stroke-width="1.0"/>
<path d="M261.0 197.3 L263.0 198.6" stroke-width="1.5"/>
<path d="M242.3 199.5 L243.6 198.0" stroke-width="1.2"/>
<path d="M325.2 215.3 L333.0 222.0 L341.7 231.1 L347.0 238.0 L351.1 244.8 L354.9 252.6 L354.9 269.0" stroke-width="2.0"/>
<path d="M333.2 196.3 L340.0 204.0 L346.9 212.1" stroke-width="1.4"/>
<path d="M339.1 192.1 L342.5 195.0 L345.9 198.5" stroke-width="1.4"/>
<path d="M342.7 207.9 L349.0 214.3" stroke-width="1.6"/>
<path d="M344.8 204.8 L349.0 209.0" stroke-width="1.4"/>
<path d="M313.2 243.8 L316.0 251.0 L319.5 258.5 L322.5 266.0 L325.8 273.3" stroke-width="1.5"/>
<path d="M321.5 262.0 L327.0 269.0 L331.0 274.0" stroke-width="1.2"/>
<path d="M282.4 271.6 L285.0 277.0 L287.7 283.2" stroke-width="1.4"/>
<path d="M287.7 264.2 L293.0 270.0 L299.3 274.8" stroke-width="1.4"/>
<path d="M279.5 264.5 L283.0 268.0" stroke-width="1.2"/>
<path d="M284.5 278.0 L288.0 285.0" stroke-width="1.0"/>
<path d="M286.0 272.5 L290.0 280.0" stroke-width="1.0"/>
<path d="M265.6 305.3 L270.0 312.5 L276.1 320.1 L282.0 327.0 L288.8 331.7" stroke-width="1.5"/>
<path d="M287.7 300.1 L288.8 307.4 L293.5 315.0 L299.3 323.2" stroke-width="1.5"/>
<path d="M287.7 300.3 L290.5 298.0" stroke-width="1.0"/>
<path d="M285.5 329.0 L289.0 331.5 L286.0 333.0" stroke-width="1.0"/>
<path d="M229.8 335.9 L235.0 342.0 L239.0 347.0 L242.4 349.6 L247.0 355.0 L251.0 361.0 L253.5 367.0" stroke-width="1.4"/>
<path d="M227.0 346.5 L233.0 350.5 L236.0 354.0 L237.5 359.5 L241.0 364.0 L242.5 370.0" stroke-width="1.3"/>
<path d="M247.5 359.5 L249.0 365.0 L248.0 369.5" stroke-width="1.2"/>
<path d="M251.5 362.0 L256.5 366.5 L258.0 369.0" stroke-width="1.2"/>
<path d="M243.5 361.0 L243.0 366.5" stroke-width="1.2"/>
<path d="M259.5 366.5 L261.5 364.8" stroke-width="1.0"/>
<path d="M170.0 369.5 L174.0 374.0 L179.0 381.5" stroke-width="1.3"/>
<path d="M184.0 377.5 L188.5 380.0" stroke-width="1.2"/>
<path d="M186.0 374.5 L191.5 378.0 L195.0 383.0" stroke-width="1.2"/>
<path d="M189.5 373.0 L195.0 376.0 L199.0 381.0" stroke-width="1.2"/>
<path d="M193.5 372.5 L198.5 375.0 L201.5 379.5" stroke-width="1.1"/>
<path d="M197.0 383.0 L201.0 385.5" stroke-width="1.0"/>
<path d="M208.8 368.5 L207.6 372.5" stroke-width="1.0"/>
<path d="M282.0 393.0 L281.6 400.5" stroke-width="1.3"/>
<path d="M270.5 435.6 L269.7 439.0" stroke-width="1.0"/>
<path d="M269.0 442.0 L268.0 446.0" stroke-width="1.0"/>
<path d="M267.0 450.0 L265.6 456.6" stroke-width="1.0"/>
<path d="M281.0 446.1 L286.6 443.3" stroke-width="1.4"/>
<path d="M289.4 451.0 L290.8 454.5" stroke-width="1.1"/>
<path d="M243.8 486.0 L245.9 491.7" stroke-width="1.0"/>
<path d="M255.7 478.4 L256.4 485.4" stroke-width="1.0"/>
<path d="M256.2 488.5 L253.6 496.0" stroke-width="1.0"/>
<path d="M242.0 466.0 L242.6 468.5" stroke-width="1.0"/>
</g>
<g fill="#000">
<circle cx="53.4" cy="106.3" r="0.9"/>
<circle cx="35.7" cy="116.4" r="0.9"/>
<circle cx="43.6" cy="97.2" r="0.78"/>
<circle cx="121.3" cy="97.5" r="0.9"/>
<circle cx="120.4" cy="99.3" r="0.75"/>
<circle cx="145.4" cy="97.5" r="0.75"/>
<circle cx="148.5" cy="98.3" r="0.78"/>
<circle cx="110" cy="119.1" r="0.75"/>
<circle cx="129.9" cy="118.7" r="0.75"/>
<circle cx="95" cy="159.4" r="0.75"/>
<circle cx="98.7" cy="167" r="0.78"/>
<circle cx="85.8" cy="170" r="0.75"/>
<circle cx="95.6" cy="172.7" r="0.78"/>
<circle cx="53.4" cy="173.7" r="0.75"/>
<circle cx="142.4" cy="173" r="0.75"/>
<circle cx="147.7" cy="174.5" r="0.9"/>
<circle cx="54.1" cy="174.5" r="0.78"/>
<circle cx="55.2" cy="176" r="0.75"/>
<circle cx="86.6" cy="175.3" r="0.9"/>
<circle cx="95.2" cy="172.3" r="0.78"/>
<circle cx="90.7" cy="181.3" r="0.9"/>
<circle cx="90.2" cy="183" r="0.75"/>
<circle cx="88.1" cy="185.1" r="0.75"/>
<circle cx="119" cy="179.8" r="0.75"/>
<circle cx="124" cy="184.8" r="0.9"/>
<circle cx="125.5" cy="184" r="0.78"/>
<circle cx="127.4" cy="184.9" r="0.78"/>
<circle cx="129.6" cy="189.6" r="0.9"/>
<circle cx="131" cy="192.5" r="0.78"/>
<circle cx="123.6" cy="193.4" r="0.9"/>
<circle cx="133.4" cy="197.2" r="1.01"/>
<circle cx="141.7" cy="201.2" r="0.9"/>
<circle cx="147.7" cy="175.3" r="0.9"/>
<circle cx="139.4" cy="211.5" r="0.75"/>
<circle cx="134.9" cy="216.8" r="0.9"/>
<circle cx="129.6" cy="221" r="0.9"/>
<circle cx="83.6" cy="224.8" r="0.75"/>
<circle cx="42.8" cy="218.6" r="0.9"/>
<circle cx="45.8" cy="217.1" r="0.78"/>
<circle cx="46.6" cy="222.8" r="0.9"/>
<circle cx="50.1" cy="226.9" r="0.9"/>
<circle cx="53" cy="218.2" r="0.78"/>
<circle cx="55.2" cy="217.6" r="0.78"/>
<circle cx="57.2" cy="221.3" r="0.9"/>
<circle cx="73.8" cy="243.9" r="1.01"/>
<circle cx="77.5" cy="245.9" r="0.78"/>
<circle cx="88.1" cy="255.3" r="0.9"/>
<circle cx="88.1" cy="255.7" r="0.78"/>
<circle cx="89.6" cy="280.6" r="0.78"/>
<circle cx="90.4" cy="288.8" r="0.78"/>
<circle cx="85.1" cy="290.7" r="1.01"/>
<circle cx="86.6" cy="291" r="0.75"/>
<circle cx="82.8" cy="295.3" r="0.78"/>
<circle cx="83.5" cy="293.5" r="0.75"/>
<circle cx="120.5" cy="286.2" r="0.78"/>
<circle cx="122.5" cy="289.2" r="0.9"/>
<circle cx="145" cy="288" r="0.75"/>
<circle cx="143.9" cy="304.6" r="0.75"/>
<circle cx="135.2" cy="310.8" r="0.9"/>
<circle cx="138.2" cy="317.9" r="0.9"/>
<circle cx="65.5" cy="349.9" r="1.01"/>
<circle cx="71" cy="319.5" r="0.75"/>
<circle cx="74.7" cy="327.8" r="0.9"/>
<circle cx="76" cy="330.3" r="0.78"/>
<circle cx="194.1" cy="104.6" r="0.75"/>
<circle cx="239" cy="113.4" r="0.75"/>
<circle cx="222.8" cy="145.4" r="0.75"/>
<circle cx="236.4" cy="144.8" r="0.75"/>
<circle cx="212" cy="150.8" r="0.78"/>
<circle cx="305.5" cy="152.2" r="0.75"/>
<circle cx="276.8" cy="175.3" r="0.75"/>
<circle cx="308.5" cy="105.5" r="0.78"/>
<circle cx="309.8" cy="108.5" r="0.75"/>
<circle cx="179.4" cy="188.9" r="1.12"/>
<circle cx="214.1" cy="177.8" r="0.78"/>
<circle cx="276.8" cy="176" r="0.78"/>
<circle cx="314.6" cy="181" r="0.9"/>
<circle cx="285.9" cy="188.4" r="0.9"/>
<circle cx="214.2" cy="210.7" r="0.75"/>
<circle cx="231.9" cy="225.1" r="0.9"/>
<circle cx="258.3" cy="188.9" r="1.01"/>
<circle cx="260.5" cy="191.5" r="0.78"/>
<circle cx="262.8" cy="193.5" r="0.78"/>
<circle cx="264.3" cy="194.9" r="0.78"/>
<circle cx="242.9" cy="198.7" r="0.9"/>
<circle cx="274.1" cy="218.3" r="0.9"/>
<circle cx="269.6" cy="237.1" r="0.9"/>
<circle cx="279.9" cy="251.5" r="0.9"/>
<circle cx="262" cy="236" r="0.75"/>
<circle cx="265" cy="235" r="0.75"/>
<circle cx="246" cy="245.5" r="0.75"/>
<circle cx="268.5" cy="246" r="0.75"/>
<circle cx="277.5" cy="208.5" r="0.75"/>
<circle cx="277" cy="213" r="0.75"/>
<circle cx="285.2" cy="188.5" r="0.78"/>
<circle cx="276.7" cy="176.3" r="0.75"/>
<circle cx="314.3" cy="181" r="0.78"/>
<circle cx="347.3" cy="178" r="0.9"/>
<circle cx="358.1" cy="201.2" r="0.9"/>
<circle cx="358.1" cy="225.8" r="0.75"/>
<circle cx="353.2" cy="228" r="0.75"/>
<circle cx="334.4" cy="129.5" r="0.75"/>
<circle cx="337.7" cy="129.5" r="0.75"/>
<circle cx="361.6" cy="117.9" r="0.75"/>
<circle cx="347" cy="114" r="0.75"/>
<circle cx="349.5" cy="110.8" r="0.75"/>
<circle cx="369.7" cy="50.8" r="0.9"/>
<circle cx="370.4" cy="49" r="0.75"/>
<circle cx="383.7" cy="54.2" r="0.78"/>
<circle cx="374.2" cy="60.8" r="0.75"/>
<circle cx="370.3" cy="75.8" r="0.75"/>
<circle cx="357.5" cy="81.7" r="0.75"/>
<circle cx="452" cy="110.3" r="1.01"/>
<circle cx="450.8" cy="66.7" r="0.75"/>
<circle cx="452.5" cy="49.2" r="0.75"/>
<circle cx="430.8" cy="69.5" r="0.75"/>
<circle cx="443.5" cy="50.5" r="0.75"/>
<circle cx="446" cy="57" r="0.75"/>
<circle cx="441" cy="49.6" r="0.75"/>
<circle cx="384.5" cy="95.5" r="0.75"/>
<circle cx="386" cy="98" r="0.75"/>
<circle cx="392.5" cy="111" r="0.75"/>
<circle cx="389" cy="83" r="0.75"/>
<circle cx="398" cy="76.5" r="0.75"/>
<circle cx="404.5" cy="77.5" r="0.75"/>
<circle cx="411" cy="79.8" r="0.75"/>
<circle cx="257" cy="246" r="0.78"/>
<circle cx="259" cy="248.5" r="0.75"/>
<circle cx="262" cy="252" r="0.75"/>
<circle cx="258.5" cy="254.5" r="0.78"/>
<circle cx="249.5" cy="247" r="0.75"/>
<circle cx="238" cy="273.5" r="0.75"/>
<circle cx="230.5" cy="263.5" r="0.75"/>
<circle cx="217.5" cy="273" r="0.75"/>
<circle cx="237.5" cy="281.5" r="0.75"/>
<circle cx="256.3" cy="262.5" r="0.78"/>
<circle cx="257" cy="265" r="0.75"/>
<circle cx="263" cy="262.5" r="0.75"/>
<circle cx="282.6" cy="245.5" r="0.75"/>
<circle cx="280.6" cy="253.5" r="0.78"/>
<circle cx="279.8" cy="255.7" r="0.75"/>
<circle cx="269" cy="243" r="0.75"/>
<circle cx="262.5" cy="246" r="0.75"/>
<circle cx="277" cy="239" r="0.75"/>
<circle cx="223.5" cy="343.5" r="0.75"/>
<circle cx="225.5" cy="345.5" r="0.75"/>
<circle cx="224" cy="347" r="0.75"/>
<circle cx="226.5" cy="348.3" r="0.75"/>
<circle cx="222.5" cy="350.5" r="0.75"/>
<circle cx="221.8" cy="355" r="0.75"/>
<circle cx="223" cy="357.5" r="0.75"/>
<circle cx="285.5" cy="273" r="0.75"/>
<circle cx="287" cy="276" r="0.75"/>
<circle cx="289" cy="274.5" r="0.75"/>
<circle cx="291.5" cy="278" r="0.75"/>
<circle cx="288" cy="280.5" r="0.75"/>
<circle cx="290.5" cy="283" r="0.75"/>
<circle cx="294.2" cy="353.5" r="0.78"/>
<circle cx="203.6" cy="373.2" r="0.75"/>
<circle cx="206" cy="374.5" r="0.75"/>
<circle cx="204.5" cy="376.5" r="0.75"/>
<circle cx="191" cy="384.5" r="0.75"/>
<circle cx="193.5" cy="386" r="0.75"/>
<circle cx="267.3" cy="381" r="0.75"/>
<circle cx="254.2" cy="364.5" r="0.75"/>
<circle cx="263" cy="363" r="0.75"/>
<circle cx="289.6" cy="449.5" r="0.75"/>
<circle cx="287.5" cy="445.8" r="0.75"/>
<circle cx="246.5" cy="382" r="0.75"/>
</g></g>
<g fill="none" stroke="#a61a1c" stroke-width="1.5" stroke-dasharray="4.4 2.1"><path d="M302.7 205.8 C318 214 338 238 344 258 C347 270 342 277.5 333 278 C322 278.5 312 273 305 266 C293 254 284 238 278.4 223.7"/><path d="M264 259.5 C276 268 292 288 301 303 C308 315 308.5 326 302 331.5 C295 337 284 331 274 322 C262 311 247 291 238 275"/><path d="M218.5 289.5 C236 310 262 348 290 386 C303 404 311 418 309.5 425 C308 432 299 430 288 421.7 C270 408 240 376 218 346 C208 332 198 323 187.5 313.5"/><path d="M161.5 330.5 C180 352 215 395 241.7 430 C256 449 268 468 266.3 475.5 C264.5 482 256 476 248 467.5 C228 446 196 410 172 380 C158 362 146 348 136.4 337.8"/><path d="M334.7 417.4 C340 424 347 430.5 354 430.5 C362 430.5 366 424 365.3 417 C364.5 411 361.5 406 358.5 402.6"/></g>
<g transform="translate(506.2 -2.0)"><g fill="none" stroke="#a61a1c" stroke-width="1.5" stroke-dasharray="4.4 2.1"><path d="M302.7 205.8 C318 214 338 238 344 258 C347 270 342 277.5 333 278 C322 278.5 312 273 305 266 C293 254 284 238 278.4 223.7"/><path d="M264 259.5 C276 268 292 288 301 303 C308 315 308.5 326 302 331.5 C295 337 284 331 274 322 C262 311 247 291 238 275"/><path d="M218.5 289.5 C236 310 262 348 290 386 C303 404 311 418 309.5 425 C308 432 299 430 288 421.7 C270 408 240 376 218 346 C208 332 198 323 187.5 313.5"/><path d="M161.5 330.5 C180 352 215 395 241.7 430 C256 449 268 468 266.3 475.5 C264.5 482 256 476 248 467.5 C228 446 196 410 172 380 C158 362 146 348 136.4 337.8"/><path d="M334.7 417.4 C340 424 347 430.5 354 430.5 C362 430.5 366 424 365.3 417 C364.5 411 361.5 406 358.5 402.6"/></g></g>
<g fill="none" stroke="#000" stroke-width="2" stroke-linecap="round" stroke-linejoin="round"><path d="M332.6 295.8 L339 301 L351.6 310.5"/><path d="M345.9 295.2 L354 304 L361 314.7"/></g>
<g transform="translate(506.2 -2.0)"><g fill="none" stroke="#000" stroke-width="2" stroke-linecap="round" stroke-linejoin="round"><path d="M332.6 295.8 L339 301 L351.6 310.5"/><path d="M345.9 295.2 L354 304 L361 314.7"/></g></g>
<text x="244.4" y="37.7" font-size="17.9" font-weight="bold" fill="#000" text-anchor="middle" font-family="Liberation Sans, sans-serif" textLength="137.2" lengthAdjust="spacingAndGlyphs" stroke="#000" stroke-width="0.35">CHARGEABILITY</text>
<text x="751.3" y="35.9" font-size="17.9" font-weight="bold" fill="#000" text-anchor="middle" font-family="Liberation Sans, sans-serif" textLength="102.2" lengthAdjust="spacingAndGlyphs" stroke="#000" stroke-width="0.35">RESISTIVITY</text>
<g transform="translate(29.3 33.8)"><circle r="8.4" fill="none" stroke="#a59e6e" stroke-width="1.4"/><g fill="#fff"><rect x="-2.4" y="-10" width="4.8" height="20"/><rect x="-10" y="-2.4" width="20" height="4.8"/></g><g fill="#1c2d5e" stroke="none"><polygon points="0,-11 1.9,-2.6 2.6,-1.9 11,0 2.6,1.9 1.9,2.6 0,11 -1.9,2.6 -2.6,1.9 -11,0 -2.6,-1.9 -1.9,-2.6"/><circle r="4.1"/></g><g stroke="#1c2d5e" stroke-width="1.3" stroke-linecap="butt"><path d="M-2.6 -2.6 L-5 -5 M2.6 -2.6 L5 -5 M-2.6 2.6 L-5 5 M2.6 2.6 L5 5"/></g><circle r="2.35" fill="#fff"/></g>
<g transform="translate(540.2 33.8)"><circle r="8.4" fill="none" stroke="#a59e6e" stroke-width="1.4"/><g fill="#fff"><rect x="-2.4" y="-10" width="4.8" height="20"/><rect x="-10" y="-2.4" width="20" height="4.8"/></g><g fill="#1c2d5e" stroke="none"><polygon points="0,-11 1.9,-2.6 2.6,-1.9 11,0 2.6,1.9 1.9,2.6 0,11 -1.9,2.6 -2.6,1.9 -11,0 -2.6,-1.9 -1.9,-2.6"/><circle r="4.1"/></g><g stroke="#1c2d5e" stroke-width="1.3" stroke-linecap="butt"><path d="M-2.6 -2.6 L-5 -5 M2.6 -2.6 L5 -5 M-2.6 2.6 L-5 5 M2.6 2.6 L5 5"/></g><circle r="2.35" fill="#fff"/></g>
<text x="30.6" y="62.3" font-size="21.5" font-weight="bold" fill="#1c2d5e" text-anchor="middle" font-family="Liberation Serif, serif" stroke="#1c2d5e" stroke-width="0.55">N</text>
<text x="541.2" y="61.6" font-size="21.5" font-weight="bold" fill="#1c2d5e" text-anchor="middle" font-family="Liberation Serif, serif" stroke="#1c2d5e" stroke-width="0.55">N</text>
<text x="73" y="85.9" font-size="14.2" font-weight="bold" fill="#767676" text-anchor="start" font-family="Liberation Sans, sans-serif" textLength="132" lengthAdjust="spacingAndGlyphs" >Property Boundary</text>
<text x="581.5" y="83.0" font-size="14.2" font-weight="bold" fill="#767676" text-anchor="start" font-family="Liberation Sans, sans-serif" textLength="131.6" lengthAdjust="spacingAndGlyphs" >Property Boundary</text>
<text x="279.5" y="201.2" font-size="10.6" font-weight="bold" fill="#a61a1c" text-anchor="start" font-family="Liberation Sans, sans-serif" textLength="43" lengthAdjust="spacingAndGlyphs" stroke="#a61a1c" stroke-width="0.3">EUGENIA</text>
<text x="220.9" y="258.5" font-size="10.6" font-weight="bold" fill="#a61a1c" text-anchor="start" font-family="Liberation Sans, sans-serif" textLength="46.8" lengthAdjust="spacingAndGlyphs" stroke="#a61a1c" stroke-width="0.3">GABRIELA</text>
<text x="151.9" y="305.8" font-size="10.6" font-weight="bold" fill="#a61a1c" text-anchor="start" font-family="Liberation Sans, sans-serif" textLength="61.5" lengthAdjust="spacingAndGlyphs" stroke="#a61a1c" stroke-width="0.3">JULIA/ELENA</text>
<text x="128.1" y="331.5" font-size="10.6" font-weight="bold" fill="#a61a1c" text-anchor="start" font-family="Liberation Sans, sans-serif" textLength="24.2" lengthAdjust="spacingAndGlyphs" stroke="#a61a1c" stroke-width="0.3">LARA</text>
<text x="785.7" y="199.2" font-size="10.6" font-weight="bold" fill="#a61a1c" text-anchor="start" font-family="Liberation Sans, sans-serif" textLength="43" lengthAdjust="spacingAndGlyphs" stroke="#a61a1c" stroke-width="0.3">EUGENIA</text>
<text x="727.1" y="256.5" font-size="10.6" font-weight="bold" fill="#a61a1c" text-anchor="start" font-family="Liberation Sans, sans-serif" textLength="46.8" lengthAdjust="spacingAndGlyphs" stroke="#a61a1c" stroke-width="0.3">GABRIELA</text>
<text x="658.1" y="303.8" font-size="10.6" font-weight="bold" fill="#a61a1c" text-anchor="start" font-family="Liberation Sans, sans-serif" textLength="61.5" lengthAdjust="spacingAndGlyphs" stroke="#a61a1c" stroke-width="0.3">JULIA/ELENA</text>
<text x="634.3" y="329.5" font-size="10.6" font-weight="bold" fill="#a61a1c" text-anchor="start" font-family="Liberation Sans, sans-serif" textLength="24.2" lengthAdjust="spacingAndGlyphs" stroke="#a61a1c" stroke-width="0.3">LARA</text>
<text x="348.7" y="337.3" font-size="9.4" font-weight="bold" fill="#111" text-anchor="middle" font-family="Liberation Sans, sans-serif" textLength="53" lengthAdjust="spacingAndGlyphs" >Interpreted</text>
<text x="348.7" y="350.6" font-size="9.4" font-weight="bold" fill="#111" text-anchor="middle" font-family="Liberation Sans, sans-serif" textLength="25" lengthAdjust="spacingAndGlyphs" >Veins</text>
<text x="348.7" y="363.90000000000003" font-size="9.4" font-weight="bold" fill="#111" text-anchor="middle" font-family="Liberation Sans, sans-serif" textLength="32.5" lengthAdjust="spacingAndGlyphs" >Barrick</text>
<text x="348.7" y="377.20000000000005" font-size="9.4" font-weight="bold" fill="#111" text-anchor="middle" font-family="Liberation Sans, sans-serif" textLength="29" lengthAdjust="spacingAndGlyphs" >(2022)</text>
<text x="350.0" y="445.8" font-size="9.4" font-weight="bold" fill="#111" text-anchor="middle" font-family="Liberation Sans, sans-serif" textLength="49" lengthAdjust="spacingAndGlyphs" >Areas with</text>
<text x="350.0" y="459.1" font-size="9.4" font-weight="bold" fill="#111" text-anchor="middle" font-family="Liberation Sans, sans-serif" textLength="20" lengthAdjust="spacingAndGlyphs" >High</text>
<text x="350.0" y="472.40000000000003" font-size="9.4" font-weight="bold" fill="#111" text-anchor="middle" font-family="Liberation Sans, sans-serif" textLength="59.5" lengthAdjust="spacingAndGlyphs" >chargeability</text>
<text x="350.0" y="485.70000000000005" font-size="9.4" font-weight="bold" fill="#111" text-anchor="middle" font-family="Liberation Sans, sans-serif" textLength="52" lengthAdjust="spacingAndGlyphs" >open to the</text>
<text x="350.0" y="499.0" font-size="9.4" font-weight="bold" fill="#111" text-anchor="middle" font-family="Liberation Sans, sans-serif" textLength="53" lengthAdjust="spacingAndGlyphs" >North-West</text>
<text x="853.3" y="335.3" font-size="9.4" font-weight="bold" fill="#111" text-anchor="middle" font-family="Liberation Sans, sans-serif" textLength="53" lengthAdjust="spacingAndGlyphs" >Interpreted</text>
<text x="853.3" y="348.6" font-size="9.4" font-weight="bold" fill="#111" text-anchor="middle" font-family="Liberation Sans, sans-serif" textLength="25" lengthAdjust="spacingAndGlyphs" >Veins</text>
<text x="853.3" y="361.90000000000003" font-size="9.4" font-weight="bold" fill="#111" text-anchor="middle" font-family="Liberation Sans, sans-serif" textLength="32.5" lengthAdjust="spacingAndGlyphs" >Barrick</text>
<text x="853.3" y="375.20000000000005" font-size="9.4" font-weight="bold" fill="#111" text-anchor="middle" font-family="Liberation Sans, sans-serif" textLength="29" lengthAdjust="spacingAndGlyphs" >(2022)</text>
<text x="853.6" y="443.3" font-size="9.4" font-weight="bold" fill="#111" text-anchor="middle" font-family="Liberation Sans, sans-serif" textLength="48.5" lengthAdjust="spacingAndGlyphs" >Areas with</text>
<text x="853.6" y="456.6" font-size="9.4" font-weight="bold" fill="#111" text-anchor="middle" font-family="Liberation Sans, sans-serif" textLength="20.5" lengthAdjust="spacingAndGlyphs" >High</text>
<text x="853.6" y="469.90000000000003" font-size="9.4" font-weight="bold" fill="#111" text-anchor="middle" font-family="Liberation Sans, sans-serif" textLength="47" lengthAdjust="spacingAndGlyphs" >Resistivity</text>
<text x="853.6" y="483.20000000000005" font-size="9.4" font-weight="bold" fill="#111" text-anchor="middle" font-family="Liberation Sans, sans-serif" textLength="53" lengthAdjust="spacingAndGlyphs" >open to the</text>
<text x="853.6" y="496.5" font-size="9.4" font-weight="bold" fill="#111" text-anchor="middle" font-family="Liberation Sans, sans-serif" textLength="54" lengthAdjust="spacingAndGlyphs" >North-West</text>
<g transform="translate(0 0)"><path d="M40 529.2 L102.7 529.2 M40 524.7 V533.6 M71.3 524.7 V533.6 M102.7 524.7 V533.6" stroke="#111" stroke-width="1.5" fill="none"/></g>
<text x="39.8" y="519" font-size="11" font-weight="normal" fill="#111" text-anchor="middle" font-family="Liberation Sans, sans-serif" >0</text>
<text x="71.2" y="519" font-size="11" font-weight="normal" fill="#111" text-anchor="middle" font-family="Liberation Sans, sans-serif" >1</text>
<text x="102.6" y="519" font-size="11" font-weight="normal" fill="#111" text-anchor="middle" font-family="Liberation Sans, sans-serif" >2</text>
<text x="71" y="543.4" font-size="11.5" font-weight="normal" fill="#111" text-anchor="middle" font-family="Liberation Sans, sans-serif" textLength="55.3" lengthAdjust="spacingAndGlyphs" >Kilometers</text>
<g transform="translate(511.0 0.1)"><path d="M40 529.2 L102.7 529.2 M40 524.7 V533.6 M71.3 524.7 V533.6 M102.7 524.7 V533.6" stroke="#111" stroke-width="1.5" fill="none"/></g>
<text x="550.8" y="519.1" font-size="11" font-weight="normal" fill="#111" text-anchor="middle" font-family="Liberation Sans, sans-serif" >0</text>
<text x="582.2" y="519.1" font-size="11" font-weight="normal" fill="#111" text-anchor="middle" font-family="Liberation Sans, sans-serif" >1</text>
<text x="613.6" y="519.1" font-size="11" font-weight="normal" fill="#111" text-anchor="middle" font-family="Liberation Sans, sans-serif" >2</text>
<text x="582.0" y="543.5" font-size="11.5" font-weight="normal" fill="#111" text-anchor="middle" font-family="Liberation Sans, sans-serif" textLength="55.3" lengthAdjust="spacingAndGlyphs" >Kilometers</text>
<rect x="432" y="140.70" width="19" height="9.92" fill="#ffb6ff"/>
<rect x="432" y="150.31" width="19" height="9.92" fill="#ff8eff"/>
<rect x="432" y="159.93" width="19" height="9.92" fill="#f838ea"/>
<rect x="432" y="169.54" width="19" height="9.92" fill="#f82cc6"/>
<rect x="432" y="179.16" width="19" height="9.92" fill="#f82c8a"/>
<rect x="432" y="188.77" width="19" height="9.92" fill="#f82c5a"/>
<rect x="432" y="198.39" width="19" height="9.92" fill="#f82a2a"/>
<rect x="432" y="208.00" width="19" height="9.92" fill="#f84622"/>
<rect x="432" y="217.62" width="19" height="9.92" fill="#f86424"/>
<rect x="432" y="227.23" width="19" height="9.92" fill="#f88024"/>
<rect x="432" y="236.85" width="19" height="9.92" fill="#f89424"/>
<rect x="432" y="246.46" width="19" height="9.92" fill="#f8a024"/>
<rect x="432" y="256.08" width="19" height="9.92" fill="#f8ac24"/>
<rect x="432" y="265.69" width="19" height="9.92" fill="#f8b624"/>
<rect x="432" y="275.31" width="19" height="9.92" fill="#f8c02a"/>
<rect x="432" y="284.92" width="19" height="9.92" fill="#f8ca2c"/>
<rect x="432" y="294.54" width="19" height="9.92" fill="#f8d42e"/>
<rect x="432" y="304.15" width="19" height="9.92" fill="#f8de30"/>
<rect x="432" y="313.77" width="19" height="9.92" fill="#f8ec30"/>
<rect x="432" y="323.38" width="19" height="9.92" fill="#f8f830"/>
<rect x="432" y="333.00" width="19" height="9.92" fill="#e0f830"/>
<rect x="432" y="342.62" width="19" height="9.92" fill="#c4f830"/>
<rect x="432" y="352.23" width="19" height="9.92" fill="#a8f830"/>
<rect x="432" y="361.85" width="19" height="9.92" fill="#8cf830"/>
<rect x="432" y="371.46" width="19" height="9.92" fill="#68f030"/>
<rect x="432" y="381.07" width="19" height="9.92" fill="#40ea30"/>
<rect x="432" y="390.69" width="19" height="9.92" fill="#2ee838"/>
<rect x="432" y="400.31" width="19" height="9.92" fill="#30ea50"/>
<rect x="432" y="409.92" width="19" height="9.92" fill="#30ec68"/>
<rect x="432" y="419.53" width="19" height="9.92" fill="#30ee84"/>
<rect x="432" y="429.15" width="19" height="9.92" fill="#30f0a4"/>
<rect x="432" y="438.76" width="19" height="9.92" fill="#30f2c8"/>
<rect x="432" y="448.38" width="19" height="9.92" fill="#30f6f0"/>
<rect x="432" y="458.00" width="19" height="9.92" fill="#30e4f8"/>
<rect x="432" y="467.61" width="19" height="9.92" fill="#30c8f8"/>
<rect x="432" y="477.23" width="19" height="9.92" fill="#30a8f4"/>
<rect x="432" y="486.84" width="19" height="9.92" fill="#3088f0"/>
<rect x="432" y="496.45" width="19" height="9.92" fill="#3068f0"/>
<rect x="432" y="506.07" width="19" height="9.92" fill="#3038f0"/>
<path d="M432 150.31 H451" stroke="rgba(30,20,20,0.75)" stroke-width="0.7"/>
<path d="M432 159.93 H451" stroke="rgba(30,20,20,0.75)" stroke-width="0.7"/>
<path d="M432 169.54 H451" stroke="rgba(30,20,20,0.75)" stroke-width="0.7"/>
<path d="M432 179.16 H451" stroke="rgba(30,20,20,0.75)" stroke-width="0.7"/>
<path d="M432 188.77 H451" stroke="rgba(30,20,20,0.75)" stroke-width="0.7"/>
<path d="M432 198.39 H451" stroke="rgba(30,20,20,0.75)" stroke-width="0.7"/>
<path d="M432 208.00 H451" stroke="rgba(30,20,20,0.75)" stroke-width="0.7"/>
<path d="M432 217.62 H451" stroke="rgba(30,20,20,0.75)" stroke-width="0.7"/>
<path d="M432 227.23 H451" stroke="rgba(30,20,20,0.75)" stroke-width="0.7"/>
<path d="M432 236.85 H451" stroke="rgba(30,20,20,0.75)" stroke-width="0.7"/>
<path d="M432 246.46 H451" stroke="rgba(30,20,20,0.75)" stroke-width="0.7"/>
<path d="M432 256.08 H451" stroke="rgba(30,20,20,0.75)" stroke-width="0.7"/>
<path d="M432 265.69 H451" stroke="rgba(30,20,20,0.75)" stroke-width="0.7"/>
<path d="M432 275.31 H451" stroke="rgba(30,20,20,0.75)" stroke-width="0.7"/>
<path d="M432 284.92 H451" stroke="rgba(30,20,20,0.75)" stroke-width="0.7"/>
<path d="M432 294.54 H451" stroke="rgba(30,20,20,0.75)" stroke-width="0.7"/>
<path d="M432 304.15 H451" stroke="rgba(30,20,20,0.75)" stroke-width="0.7"/>
<path d="M432 313.77 H451" stroke="rgba(30,20,20,0.75)" stroke-width="0.7"/>
<path d="M432 323.38 H451" stroke="rgba(30,20,20,0.75)" stroke-width="0.7"/>
<path d="M432 333.00 H451" stroke="rgba(30,20,20,0.75)" stroke-width="0.7"/>
<path d="M432 342.62 H451" stroke="rgba(30,20,20,0.75)" stroke-width="0.7"/>
<path d="M432 352.23 H451" stroke="rgba(30,20,20,0.75)" stroke-width="0.7"/>
<path d="M432 361.85 H451" stroke="rgba(30,20,20,0.75)" stroke-width="0.7"/>
<path d="M432 371.46 H451" stroke="rgba(30,20,20,0.75)" stroke-width="0.7"/>
<path d="M432 381.07 H451" stroke="rgba(30,20,20,0.75)" stroke-width="0.7"/>
<path d="M432 390.69 H451" stroke="rgba(30,20,20,0.75)" stroke-width="0.7"/>
<path d="M432 400.31 H451" stroke="rgba(30,20,20,0.75)" stroke-width="0.7"/>
<path d="M432 409.92 H451" stroke="rgba(30,20,20,0.75)" stroke-width="0.7"/>
<path d="M432 419.53 H451" stroke="rgba(30,20,20,0.75)" stroke-width="0.7"/>
<path d="M432 429.15 H451" stroke="rgba(30,20,20,0.75)" stroke-width="0.7"/>
<path d="M432 438.76 H451" stroke="rgba(30,20,20,0.75)" stroke-width="0.7"/>
<path d="M432 448.38 H451" stroke="rgba(30,20,20,0.75)" stroke-width="0.7"/>
<path d="M432 458.00 H451" stroke="rgba(30,20,20,0.75)" stroke-width="0.7"/>
<path d="M432 467.61 H451" stroke="rgba(30,20,20,0.75)" stroke-width="0.7"/>
<path d="M432 477.23 H451" stroke="rgba(30,20,20,0.75)" stroke-width="0.7"/>
<path d="M432 486.84 H451" stroke="rgba(30,20,20,0.75)" stroke-width="0.7"/>
<path d="M432 496.45 H451" stroke="rgba(30,20,20,0.75)" stroke-width="0.7"/>
<path d="M432 506.07 H451" stroke="rgba(30,20,20,0.75)" stroke-width="0.7"/>
<rect x="432" y="140.7" width="19" height="374.99" fill="none" stroke="rgba(60,50,60,0.75)" stroke-width="0.7"/>
<text x="428.6" y="152.62" font-size="6.4" font-weight="normal" fill="#222" text-anchor="end" font-family="Liberation Sans, sans-serif" >10.8</text>
<text x="428.6" y="162.23" font-size="6.4" font-weight="normal" fill="#222" text-anchor="end" font-family="Liberation Sans, sans-serif" >10.5</text>
<text x="428.6" y="171.85" font-size="6.4" font-weight="normal" fill="#222" text-anchor="end" font-family="Liberation Sans, sans-serif" >10.3</text>
<text x="428.6" y="181.46" font-size="6.4" font-weight="normal" fill="#222" text-anchor="end" font-family="Liberation Sans, sans-serif" >10.1</text>
<text x="428.6" y="191.08" font-size="6.4" font-weight="normal" fill="#222" text-anchor="end" font-family="Liberation Sans, sans-serif" >9.8</text>
<text x="428.6" y="200.69" font-size="6.4" font-weight="normal" fill="#222" text-anchor="end" font-family="Liberation Sans, sans-serif" >9.6</text>
<text x="428.6" y="210.31" font-size="6.4" font-weight="normal" fill="#222" text-anchor="end" font-family="Liberation Sans, sans-serif" >9.4</text>
<text x="428.6" y="219.92" font-size="6.4" font-weight="normal" fill="#222" text-anchor="end" font-family="Liberation Sans, sans-serif" >9.2</text>
<text x="428.6" y="229.54" font-size="6.4" font-weight="normal" fill="#222" text-anchor="end" font-family="Liberation Sans, sans-serif" >8.9</text>
<text x="428.6" y="239.15" font-size="6.4" font-weight="normal" fill="#222" text-anchor="end" font-family="Liberation Sans, sans-serif" >8.7</text>
<text x="428.6" y="248.77" font-size="6.4" font-weight="normal" fill="#222" text-anchor="end" font-family="Liberation Sans, sans-serif" >8.5</text>
<text x="428.6" y="258.38" font-size="6.4" font-weight="normal" fill="#222" text-anchor="end" font-family="Liberation Sans, sans-serif" >8.2</text>
<text x="428.6" y="268.00" font-size="6.4" font-weight="normal" fill="#222" text-anchor="end" font-family="Liberation Sans, sans-serif" >8.0</text>
<text x="428.6" y="277.61" font-size="6.4" font-weight="normal" fill="#222" text-anchor="end" font-family="Liberation Sans, sans-serif" >7.8</text>
<text x="428.6" y="287.23" font-size="6.4" font-weight="normal" fill="#222" text-anchor="end" font-family="Liberation Sans, sans-serif" >7.5</text>
<text x="428.6" y="296.84" font-size="6.4" font-weight="normal" fill="#222" text-anchor="end" font-family="Liberation Sans, sans-serif" >7.3</text>
<text x="428.6" y="306.46" font-size="6.4" font-weight="normal" fill="#222" text-anchor="end" font-family="Liberation Sans, sans-serif" >7.1</text>
<text x="428.6" y="316.07" font-size="6.4" font-weight="normal" fill="#222" text-anchor="end" font-family="Liberation Sans, sans-serif" >6.8</text>
<text x="428.6" y="325.69" font-size="6.4" font-weight="normal" fill="#222" text-anchor="end" font-family="Liberation Sans, sans-serif" >6.6</text>
<text x="428.6" y="335.30" font-size="6.4" font-weight="normal" fill="#222" text-anchor="end" font-family="Liberation Sans, sans-serif" >6.4</text>
<text x="428.6" y="344.92" font-size="6.4" font-weight="normal" fill="#222" text-anchor="end" font-family="Liberation Sans, sans-serif" >6.2</text>
<text x="428.6" y="354.53" font-size="6.4" font-weight="normal" fill="#222" text-anchor="end" font-family="Liberation Sans, sans-serif" >5.9</text>
<text x="428.6" y="364.15" font-size="6.4" font-weight="normal" fill="#222" text-anchor="end" font-family="Liberation Sans, sans-serif" >5.7</text>
<text x="428.6" y="373.76" font-size="6.4" font-weight="normal" fill="#222" text-anchor="end" font-family="Liberation Sans, sans-serif" >5.5</text>
<text x="428.6" y="383.38" font-size="6.4" font-weight="normal" fill="#222" text-anchor="end" font-family="Liberation Sans, sans-serif" >5.2</text>
<text x="428.6" y="392.99" font-size="6.4" font-weight="normal" fill="#222" text-anchor="end" font-family="Liberation Sans, sans-serif" >5.0</text>
<text x="428.6" y="402.61" font-size="6.4" font-weight="normal" fill="#222" text-anchor="end" font-family="Liberation Sans, sans-serif" >4.8</text>
<text x="428.6" y="412.22" font-size="6.4" font-weight="normal" fill="#222" text-anchor="end" font-family="Liberation Sans, sans-serif" >4.5</text>
<text x="428.6" y="421.84" font-size="6.4" font-weight="normal" fill="#222" text-anchor="end" font-family="Liberation Sans, sans-serif" >4.3</text>
<text x="428.6" y="431.45" font-size="6.4" font-weight="normal" fill="#222" text-anchor="end" font-family="Liberation Sans, sans-serif" >4.1</text>
<text x="428.6" y="441.07" font-size="6.4" font-weight="normal" fill="#222" text-anchor="end" font-family="Liberation Sans, sans-serif" >3.8</text>
<text x="428.6" y="450.68" font-size="6.4" font-weight="normal" fill="#222" text-anchor="end" font-family="Liberation Sans, sans-serif" >3.6</text>
<text x="428.6" y="460.30" font-size="6.4" font-weight="normal" fill="#222" text-anchor="end" font-family="Liberation Sans, sans-serif" >3.4</text>
<text x="428.6" y="469.91" font-size="6.4" font-weight="normal" fill="#222" text-anchor="end" font-family="Liberation Sans, sans-serif" >3.2</text>
<text x="428.6" y="479.53" font-size="6.4" font-weight="normal" fill="#222" text-anchor="end" font-family="Liberation Sans, sans-serif" >2.9</text>
<text x="428.6" y="489.14" font-size="6.4" font-weight="normal" fill="#222" text-anchor="end" font-family="Liberation Sans, sans-serif" >2.7</text>
<text x="428.6" y="498.76" font-size="6.4" font-weight="normal" fill="#222" text-anchor="end" font-family="Liberation Sans, sans-serif" >2.5</text>
<text x="428.6" y="508.37" font-size="6.4" font-weight="normal" fill="#222" text-anchor="end" font-family="Liberation Sans, sans-serif" >2.2</text>
<text x="432" y="526.8" font-size="10" font-weight="bold" fill="#111" text-anchor="middle" font-family="Liberation Sans, sans-serif" textLength="64" lengthAdjust="spacingAndGlyphs" >Chargeability</text>
<text x="431.4" y="534.7" font-size="8" font-weight="normal" fill="#444" text-anchor="middle" font-family="Liberation Sans, sans-serif" textLength="19.6" lengthAdjust="spacingAndGlyphs" >mV/V</text>
<path d="M461.3 461.7 H463.6 M465.8 461.7 H468.1 M464.7 458.3 V460.6 M464.7 462.8 V465.1" stroke="#c4c4c4" stroke-width="0.9" fill="none"/>
<rect x="924.8" y="230.10" width="22.700000000000045" height="11.56" fill="#ffffff"/>
<rect x="924.8" y="241.36" width="22.700000000000045" height="11.56" fill="#f4ffff"/>
<rect x="924.8" y="252.62" width="22.700000000000045" height="11.56" fill="#dcffff"/>
<rect x="924.8" y="263.88" width="22.700000000000045" height="11.56" fill="#bcffff"/>
<rect x="924.8" y="275.14" width="22.700000000000045" height="11.56" fill="#7cffff"/>
<rect x="924.8" y="286.40" width="22.700000000000045" height="11.56" fill="#7cffd4"/>
<rect x="924.8" y="297.66" width="22.700000000000045" height="11.56" fill="#7cff8c"/>
<rect x="924.8" y="308.92" width="22.700000000000045" height="11.56" fill="#7cee24"/>
<rect x="924.8" y="320.18" width="22.700000000000045" height="11.56" fill="#d4f624"/>
<rect x="924.8" y="331.44" width="22.700000000000045" height="11.56" fill="#fafa2c"/>
<rect x="924.8" y="342.70" width="22.700000000000045" height="11.56" fill="#ffff30"/>
<rect x="924.8" y="353.96" width="22.700000000000045" height="11.56" fill="#ffff30"/>
<rect x="924.8" y="365.22" width="22.700000000000045" height="11.56" fill="#fffa30"/>
<rect x="924.8" y="376.48" width="22.700000000000045" height="11.56" fill="#fff230"/>
<rect x="924.8" y="387.74" width="22.700000000000045" height="11.56" fill="#fcc830"/>
<rect x="924.8" y="399.00" width="22.700000000000045" height="11.56" fill="#fc9830"/>
<rect x="924.8" y="410.26" width="22.700000000000045" height="11.56" fill="#fc6030"/>
<rect x="924.8" y="421.52" width="22.700000000000045" height="11.56" fill="#fc3030"/>
<rect x="924.8" y="432.78" width="22.700000000000045" height="11.56" fill="#ff30ff"/>
<rect x="924.8" y="444.04" width="22.700000000000045" height="11.56" fill="#f232ff"/>
<rect x="924.8" y="455.30" width="22.700000000000045" height="11.56" fill="#e636ff"/>
<rect x="924.8" y="466.56" width="22.700000000000045" height="11.56" fill="#d63aff"/>
<rect x="924.8" y="477.82" width="22.700000000000045" height="11.56" fill="#c040ff"/>
<rect x="924.8" y="489.08" width="22.700000000000045" height="11.56" fill="#a846ff"/>
<rect x="924.8" y="500.34" width="22.700000000000045" height="11.56" fill="#8840ff"/>
<path d="M924.8 241.36 H947.5" stroke="rgba(30,20,20,0.75)" stroke-width="0.7"/>
<path d="M924.8 252.62 H947.5" stroke="rgba(30,20,20,0.75)" stroke-width="0.7"/>
<path d="M924.8 263.88 H947.5" stroke="rgba(30,20,20,0.75)" stroke-width="0.7"/>
<path d="M924.8 275.14 H947.5" stroke="rgba(30,20,20,0.75)" stroke-width="0.7"/>
<path d="M924.8 286.40 H947.5" stroke="rgba(30,20,20,0.75)" stroke-width="0.7"/>
<path d="M924.8 297.66 H947.5" stroke="rgba(30,20,20,0.75)" stroke-width="0.7"/>
<path d="M924.8 308.92 H947.5" stroke="rgba(30,20,20,0.75)" stroke-width="0.7"/>
<path d="M924.8 320.18 H947.5" stroke="rgba(30,20,20,0.75)" stroke-width="0.7"/>
<path d="M924.8 331.44 H947.5" stroke="rgba(30,20,20,0.75)" stroke-width="0.7"/>
<path d="M924.8 342.70 H947.5" stroke="rgba(30,20,20,0.75)" stroke-width="0.7"/>
<path d="M924.8 353.96 H947.5" stroke="rgba(30,20,20,0.75)" stroke-width="0.7"/>
<path d="M924.8 365.22 H947.5" stroke="rgba(30,20,20,0.75)" stroke-width="0.7"/>
<path d="M924.8 376.48 H947.5" stroke="rgba(30,20,20,0.75)" stroke-width="0.7"/>
<path d="M924.8 387.74 H947.5" stroke="rgba(30,20,20,0.75)" stroke-width="0.7"/>
<path d="M924.8 399.00 H947.5" stroke="rgba(30,20,20,0.75)" stroke-width="0.7"/>
<path d="M924.8 410.26 H947.5" stroke="rgba(30,20,20,0.75)" stroke-width="0.7"/>
<path d="M924.8 421.52 H947.5" stroke="rgba(30,20,20,0.75)" stroke-width="0.7"/>
<path d="M924.8 432.78 H947.5" stroke="rgba(30,20,20,0.75)" stroke-width="0.7"/>
<path d="M924.8 444.04 H947.5" stroke="rgba(30,20,20,0.75)" stroke-width="0.7"/>
<path d="M924.8 455.30 H947.5" stroke="rgba(30,20,20,0.75)" stroke-width="0.7"/>
<path d="M924.8 466.56 H947.5" stroke="rgba(30,20,20,0.75)" stroke-width="0.7"/>
<path d="M924.8 477.82 H947.5" stroke="rgba(30,20,20,0.75)" stroke-width="0.7"/>
<path d="M924.8 489.08 H947.5" stroke="rgba(30,20,20,0.75)" stroke-width="0.7"/>
<path d="M924.8 500.34 H947.5" stroke="rgba(30,20,20,0.75)" stroke-width="0.7"/>
<rect x="924.8" y="230.1" width="22.700000000000045" height="281.50" fill="none" stroke="rgba(60,50,60,0.75)" stroke-width="0.7"/>
<text x="921" y="244.17" font-size="7.8" font-weight="normal" fill="#222" text-anchor="end" font-family="Liberation Sans, sans-serif" >276</text>
<text x="921" y="255.43" font-size="7.8" font-weight="normal" fill="#222" text-anchor="end" font-family="Liberation Sans, sans-serif" >243</text>
<text x="921" y="266.69" font-size="7.8" font-weight="normal" fill="#222" text-anchor="end" font-family="Liberation Sans, sans-serif" >224</text>
<text x="921" y="277.95" font-size="7.8" font-weight="normal" fill="#222" text-anchor="end" font-family="Liberation Sans, sans-serif" >213</text>
<text x="921" y="289.21" font-size="7.8" font-weight="normal" fill="#222" text-anchor="end" font-family="Liberation Sans, sans-serif" >203</text>
<text x="921" y="300.47" font-size="7.8" font-weight="normal" fill="#222" text-anchor="end" font-family="Liberation Sans, sans-serif" >196</text>
<text x="921" y="311.73" font-size="7.8" font-weight="normal" fill="#222" text-anchor="end" font-family="Liberation Sans, sans-serif" >189</text>
<text x="921" y="322.99" font-size="7.8" font-weight="normal" fill="#222" text-anchor="end" font-family="Liberation Sans, sans-serif" >182</text>
<text x="921" y="334.25" font-size="7.8" font-weight="normal" fill="#222" text-anchor="end" font-family="Liberation Sans, sans-serif" >175</text>
<text x="921" y="345.51" font-size="7.8" font-weight="normal" fill="#222" text-anchor="end" font-family="Liberation Sans, sans-serif" >169</text>
<text x="921" y="356.77" font-size="7.8" font-weight="normal" fill="#222" text-anchor="end" font-family="Liberation Sans, sans-serif" >163</text>
<text x="921" y="368.03" font-size="7.8" font-weight="normal" fill="#222" text-anchor="end" font-family="Liberation Sans, sans-serif" >157</text>
<text x="921" y="379.29" font-size="7.8" font-weight="normal" fill="#222" text-anchor="end" font-family="Liberation Sans, sans-serif" >151</text>
<text x="921" y="390.55" font-size="7.8" font-weight="normal" fill="#222" text-anchor="end" font-family="Liberation Sans, sans-serif" >145</text>
<text x="921" y="401.81" font-size="7.8" font-weight="normal" fill="#222" text-anchor="end" font-family="Liberation Sans, sans-serif" >139</text>
<text x="921" y="413.07" font-size="7.8" font-weight="normal" fill="#222" text-anchor="end" font-family="Liberation Sans, sans-serif" >134</text>
<text x="921" y="424.33" font-size="7.8" font-weight="normal" fill="#222" text-anchor="end" font-family="Liberation Sans, sans-serif" >128</text>
<text x="921" y="435.59" font-size="7.8" font-weight="normal" fill="#222" text-anchor="end" font-family="Liberation Sans, sans-serif" >122</text>
<text x="921" y="446.85" font-size="7.8" font-weight="normal" fill="#222" text-anchor="end" font-family="Liberation Sans, sans-serif" >115</text>
<text x="921" y="458.11" font-size="7.8" font-weight="normal" fill="#222" text-anchor="end" font-family="Liberation Sans, sans-serif" >109</text>
<text x="921" y="469.37" font-size="7.8" font-weight="normal" fill="#222" text-anchor="end" font-family="Liberation Sans, sans-serif" >102</text>
<text x="921" y="480.63" font-size="7.8" font-weight="normal" fill="#222" text-anchor="end" font-family="Liberation Sans, sans-serif" >94</text>
<text x="921" y="491.89" font-size="7.8" font-weight="normal" fill="#222" text-anchor="end" font-family="Liberation Sans, sans-serif" >85</text>
<text x="921" y="503.15" font-size="7.8" font-weight="normal" fill="#222" text-anchor="end" font-family="Liberation Sans, sans-serif" >70</text>
<text x="924.5" y="524.2" font-size="11.6" font-weight="bold" fill="#111" text-anchor="middle" font-family="Liberation Sans, sans-serif" textLength="58" lengthAdjust="spacingAndGlyphs" >Resistivity</text>
<text x="924.4" y="533" font-size="10" font-weight="normal" fill="#333" text-anchor="middle" font-family="Liberation Sans, sans-serif" textLength="30.7" lengthAdjust="spacingAndGlyphs" >ohm.m</text>
</svg></body></html>
